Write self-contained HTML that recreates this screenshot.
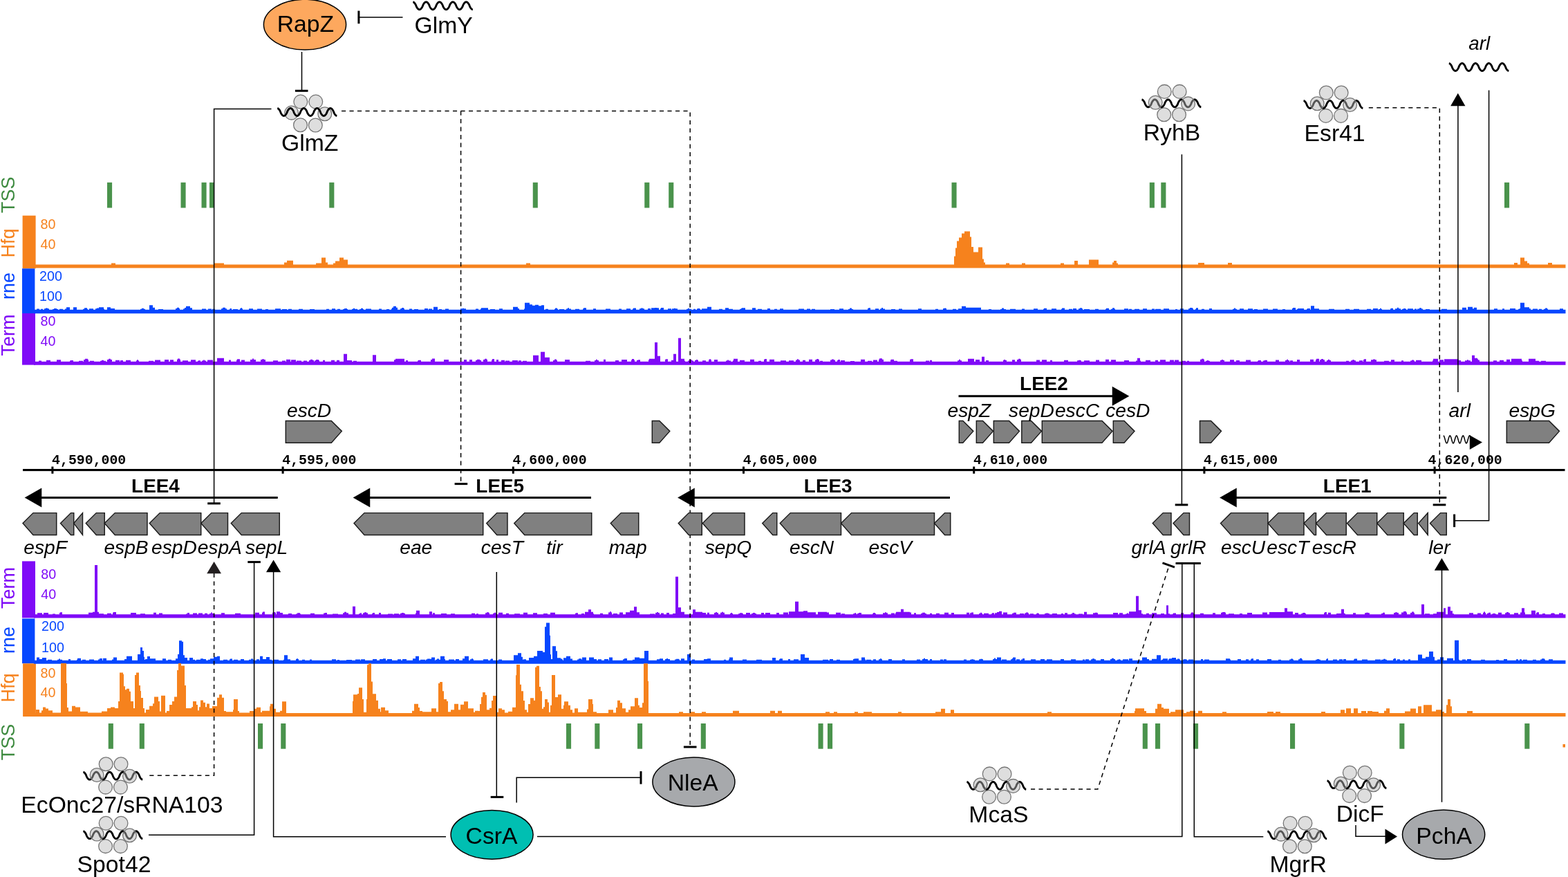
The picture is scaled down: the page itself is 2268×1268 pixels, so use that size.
<!DOCTYPE html>
<html lang="en">
<head>
<meta charset="utf-8">
<title>LEE pathogenicity island sRNA regulation</title>
<style>
html,body{margin:0;padding:0;background:#fff;}
body{width:2268px;height:1268px;overflow:hidden;}
svg{display:block;}
text{white-space:pre;}
</style>
</head>
<body>
<svg width="2268" height="1268" viewBox="0 0 2268 1268">
<rect x="0" y="0" width="2268" height="1268" fill="#fff"/>
<rect x="32.6" y="311.7" width="19" height="76.6" fill="#F6821D"/>
<rect x="32" y="388.3" width="18.4" height="64.7" fill="#0647FF"/>
<rect x="32" y="453" width="19" height="74.6" fill="#7F0AF7"/>
<path d="M49,387.6L49.0,382.4L161.0,382.4L161.0,380.6L167.0,380.6L167.0,382.4L310.0,382.4L310.0,380.4L324.0,380.4L324.0,382.4L411.0,382.4L411.0,379.4L415.0,379.4L415.0,376.8L424.0,376.8L424.0,382.4L457.0,382.4L457.0,380.4L465.0,380.4L465.0,372.4L471.0,372.4L471.0,379.4L474.0,379.4L474.0,382.4L482.0,382.4L482.0,380.4L485.0,380.4L485.0,377.4L491.0,377.4L491.0,372.4L497.0,372.4L497.0,375.4L503.0,375.4L503.0,382.4L761.0,382.4L761.0,380.4L767.0,380.4L767.0,382.4L1380.0,382.4L1380.0,370.4L1382.0,370.4L1382.0,358.4L1384.0,358.4L1384.0,348.4L1387.0,348.4L1387.0,343.4L1391.0,343.4L1391.0,337.4L1395.0,337.4L1395.0,334.4L1403.0,334.4L1403.0,342.4L1405.0,342.4L1405.0,356.9L1408.0,356.9L1408.0,364.4L1415.0,364.4L1415.0,357.4L1421.0,357.4L1421.0,374.4L1423.0,374.4L1423.0,379.4L1425.0,379.4L1425.0,382.4L1455.0,382.4L1455.0,380.4L1460.0,380.4L1460.0,382.4L1478.0,382.4L1478.0,380.4L1483.0,380.4L1483.0,382.4L1534.0,382.4L1534.0,380.4L1539.0,380.4L1539.0,382.4L1554.0,382.4L1554.0,376.9L1559.0,376.9L1559.0,382.4L1575.0,382.4L1575.0,375.4L1589.0,375.4L1589.0,382.4L1609.0,382.4L1609.0,379.4L1611.0,379.4L1611.0,376.9L1615.0,376.9L1615.0,380.4L1617.0,380.4L1617.0,382.4L1733.0,382.4L1733.0,379.9L1742.0,379.9L1742.0,382.4L1776.0,382.4L1776.0,379.9L1782.0,379.9L1782.0,382.4L2190.0,382.4L2190.0,379.9L2195.0,379.9L2195.0,382.4L2199.0,382.4L2199.0,372.4L2205.0,372.4L2205.0,377.4L2209.0,377.4L2209.0,380.4L2212.0,380.4L2212.0,382.4L2239.0,382.4L2239.0,379.9L2245.0,379.9L2245.0,382.4L2264.5,382.4L2264.5,387.6Z" fill="#F6821D"/>
<path d="M49,453.2L49.0,447.8L53.0,447.8L53.0,446.61L57.0,446.61L57.0,447.8L59.0,447.8L59.0,446.77L62.0,446.77L62.0,447.8L64.0,447.8L64.0,446.34L66.0,446.34L66.0,445.39L69.0,445.39L69.0,446.34L71.0,446.34L71.0,447.8L76.0,447.8L76.0,446.91L78.0,446.91L78.0,446.0L82.0,446.0L82.0,446.91L84.0,446.91L84.0,447.8L86.0,447.8L86.0,446.64L91.0,446.64L91.0,447.8L94.0,447.8L94.0,446.42L96.0,446.42L96.0,444.3L101.0,444.3L101.0,447.8L106.0,447.8L106.0,444.3L111.0,444.3L111.0,447.8L120.0,447.8L120.0,446.64L122.0,446.64L122.0,445.16L126.0,445.16L126.0,446.64L127.0,446.64L127.0,447.8L129.0,447.8L129.0,446.13L135.0,446.13L135.0,447.8L138.0,447.8L138.0,446.27L140.0,446.27L140.0,445.55L143.0,445.55L143.0,444.3L150.0,444.3L150.0,446.67L151.0,446.67L151.0,447.8L155.0,447.8L155.0,444.3L160.0,444.3L160.0,446.04L166.0,446.04L166.0,447.8L203.0,447.8L203.0,446.69L205.0,446.69L205.0,445.65L208.0,445.65L208.0,446.69L210.0,446.69L210.0,447.8L216.0,447.8L216.0,441.3L221.0,441.3L221.0,444.8L224.0,444.8L224.0,447.8L229.0,447.8L229.0,446.9L236.0,446.9L236.0,447.8L254.0,447.8L254.0,446.01L256.0,446.01L256.0,444.71L259.0,444.71L259.0,446.01L260.0,446.01L260.0,447.8L265.0,447.8L265.0,446.44L267.0,446.44L267.0,444.96L269.0,444.96L269.0,442.8L275.0,442.8L275.0,445.3L278.0,445.3L278.0,447.8L292.0,447.8L292.0,446.5L298.0,446.5L298.0,447.8L301.0,447.8L301.0,446.39L306.0,446.39L306.0,447.8L307.0,447.8L307.0,446.86L311.0,446.86L311.0,447.8L320.0,447.8L320.0,446.23L322.0,446.23L322.0,444.75L326.0,444.75L326.0,446.23L328.0,446.23L328.0,447.8L332.0,447.8L332.0,446.62L333.0,446.62L333.0,446.08L335.0,446.08L335.0,447.8L337.0,447.8L337.0,446.95L344.0,446.95L344.0,447.8L347.0,447.8L347.0,446.18L348.0,446.18L348.0,445.22L350.0,445.22L350.0,446.18L351.0,446.18L351.0,447.8L360.0,447.8L360.0,446.14L366.0,446.14L366.0,447.8L372.0,447.8L372.0,446.54L379.0,446.54L379.0,447.8L384.0,447.8L384.0,446.88L388.0,446.88L388.0,447.8L398.0,447.8L398.0,446.31L406.0,446.31L406.0,447.8L408.0,447.8L408.0,446.88L415.0,446.88L415.0,447.8L417.0,447.8L417.0,446.69L422.0,446.69L422.0,447.8L432.0,447.8L432.0,446.76L438.0,446.76L438.0,447.8L448.0,447.8L448.0,446.97L455.0,446.97L455.0,447.8L472.0,447.8L472.0,446.8L476.0,446.8L476.0,447.8L480.0,447.8L480.0,446.18L485.0,446.18L485.0,447.8L488.0,447.8L488.0,446.65L492.0,446.65L492.0,447.8L496.0,447.8L496.0,446.93L498.0,446.93L498.0,445.95L502.0,445.95L502.0,446.93L503.0,446.93L503.0,447.8L509.0,447.8L509.0,446.72L511.0,446.72L511.0,445.74L513.0,445.74L513.0,446.72L517.0,446.72L517.0,447.8L520.0,447.8L520.0,446.99L522.0,446.99L522.0,445.74L525.0,445.74L525.0,446.99L526.0,446.99L526.0,447.8L529.0,447.8L529.0,446.42L537.0,446.42L537.0,447.8L548.0,447.8L548.0,446.39L552.0,446.39L552.0,447.8L559.0,447.8L559.0,446.9L563.0,446.9L563.0,447.8L566.0,447.8L566.0,446.46L567.0,446.46L567.0,444.8L569.0,444.8L569.0,442.8L573.0,442.8L573.0,444.8L575.0,444.8L575.0,447.8L579.0,447.8L579.0,446.14L581.0,446.14L581.0,444.96L584.0,444.96L584.0,446.14L585.0,446.14L585.0,447.8L592.0,447.8L592.0,446.59L596.0,446.59L596.0,447.8L599.0,447.8L599.0,446.95L605.0,446.95L605.0,447.8L614.0,447.8L614.0,446.02L619.0,446.02L619.0,447.8L620.0,447.8L620.0,446.51L625.0,446.51L625.0,447.8L627.0,447.8L627.0,443.8L633.0,443.8L633.0,447.8L635.0,447.8L635.0,446.98L639.0,446.98L639.0,447.8L644.0,447.8L644.0,446.52L649.0,446.52L649.0,447.8L666.0,447.8L666.0,446.27L669.0,446.27L669.0,445.68L671.0,445.68L671.0,446.27L674.0,446.27L674.0,447.8L688.0,447.8L688.0,446.43L692.0,446.43L692.0,447.8L695.0,447.8L695.0,446.58L696.0,446.58L696.0,445.3L706.0,445.3L706.0,447.8L709.0,447.8L709.0,446.96L716.0,446.96L716.0,447.8L722.0,447.8L722.0,446.18L727.0,446.18L727.0,447.8L742.0,447.8L742.0,443.8L749.0,443.8L749.0,446.09L751.0,446.09L751.0,447.8L758.0,447.8L758.0,446.55L759.0,446.55L759.0,437.8L766.0,437.8L766.0,440.3L770.0,440.3L770.0,441.8L774.0,441.8L774.0,440.8L779.0,440.8L779.0,442.3L783.0,442.3L783.0,441.3L787.0,441.3L787.0,447.8L789.0,447.8L789.0,446.73L793.0,446.73L793.0,447.8L802.0,447.8L802.0,446.81L803.0,446.81L803.0,445.41L806.0,445.41L806.0,446.81L807.0,446.81L807.0,447.8L809.0,447.8L809.0,446.89L816.0,446.89L816.0,447.8L819.0,447.8L819.0,446.57L821.0,446.57L821.0,445.27L823.0,445.27L823.0,446.57L826.0,446.57L826.0,447.8L832.0,447.8L832.0,446.65L838.0,446.65L838.0,447.8L843.0,447.8L843.0,446.4L844.0,446.4L844.0,445.35L848.0,445.35L848.0,447.8L858.0,447.8L858.0,446.29L862.0,446.29L862.0,447.8L876.0,447.8L876.0,446.45L883.0,446.45L883.0,447.8L895.0,447.8L895.0,446.46L899.0,446.46L899.0,447.8L906.0,447.8L906.0,446.14L912.0,446.14L912.0,447.8L915.0,447.8L915.0,446.39L916.0,446.39L916.0,445.41L920.0,445.41L920.0,447.8L925.0,447.8L925.0,446.13L927.0,446.13L927.0,445.45L930.0,445.45L930.0,446.13L932.0,446.13L932.0,447.8L937.0,447.8L937.0,446.12L941.0,446.12L941.0,447.8L942.0,447.8L942.0,445.3L947.0,445.3L947.0,445.01L950.0,445.01L950.0,445.3L953.0,445.3L953.0,447.8L955.0,447.8L955.0,446.14L956.0,446.14L956.0,444.9L960.0,444.9L960.0,447.8L966.0,447.8L966.0,446.14L971.0,446.14L971.0,447.8L972.0,447.8L972.0,446.36L975.0,446.36L975.0,445.77L977.0,445.77L977.0,446.36L980.0,446.36L980.0,447.8L993.0,447.8L993.0,446.65L995.0,446.65L995.0,445.74L997.0,445.74L997.0,446.65L1000.0,446.65L1000.0,447.8L1003.0,447.8L1003.0,446.7L1006.0,446.7L1006.0,447.8L1008.0,447.8L1008.0,446.49L1009.0,446.49L1009.0,445.91L1012.0,445.91L1012.0,446.49L1013.0,446.49L1013.0,447.8L1015.0,447.8L1015.0,446.14L1023.0,446.14L1023.0,443.8L1029.0,443.8L1029.0,447.8L1040.0,447.8L1040.0,446.75L1045.0,446.75L1045.0,447.8L1049.0,447.8L1049.0,445.3L1054.0,445.3L1054.0,446.64L1060.0,446.64L1060.0,447.8L1070.0,447.8L1070.0,446.83L1072.0,446.83L1072.0,445.77L1073.0,445.77L1073.0,445.3L1078.0,445.3L1078.0,447.8L1088.0,447.8L1088.0,445.3L1093.0,445.3L1093.0,447.8L1096.0,447.8L1096.0,446.85L1102.0,446.85L1102.0,447.8L1110.0,447.8L1110.0,446.09L1114.0,446.09L1114.0,447.8L1120.0,447.8L1120.0,446.84L1124.0,446.84L1124.0,447.8L1128.0,447.8L1128.0,446.35L1133.0,446.35L1133.0,447.8L1155.0,447.8L1155.0,446.53L1163.0,446.53L1163.0,447.8L1167.0,447.8L1167.0,446.43L1172.0,446.43L1172.0,447.8L1174.0,447.8L1174.0,446.66L1179.0,446.66L1179.0,447.8L1201.0,447.8L1201.0,446.92L1207.0,446.92L1207.0,447.8L1214.0,447.8L1214.0,446.22L1220.0,446.22L1220.0,447.8L1227.0,447.8L1227.0,446.97L1229.0,446.97L1229.0,445.49L1232.0,445.49L1232.0,446.97L1234.0,446.97L1234.0,447.8L1255.0,447.8L1255.0,446.03L1256.0,446.03L1256.0,445.37L1259.0,445.37L1259.0,447.8L1266.0,447.8L1266.0,446.31L1271.0,446.31L1271.0,447.8L1273.0,447.8L1273.0,446.4L1275.0,446.4L1275.0,444.96L1277.0,444.96L1277.0,446.4L1280.0,446.4L1280.0,447.8L1289.0,447.8L1289.0,446.9L1295.0,446.9L1295.0,447.8L1300.0,447.8L1300.0,446.44L1305.0,446.44L1305.0,447.8L1328.0,447.8L1328.0,446.32L1333.0,446.32L1333.0,447.8L1353.0,447.8L1353.0,446.66L1357.0,446.66L1357.0,447.8L1364.0,447.8L1364.0,446.12L1366.0,446.12L1366.0,445.55L1368.0,445.55L1368.0,446.12L1369.0,446.12L1369.0,447.8L1378.0,447.8L1378.0,446.7L1383.0,446.7L1383.0,447.8L1386.0,447.8L1386.0,446.24L1391.0,446.24L1391.0,442.8L1397.0,442.8L1397.0,444.8L1419.0,444.8L1419.0,447.8L1430.0,447.8L1430.0,446.88L1434.0,446.88L1434.0,447.8L1447.0,447.8L1447.0,446.95L1449.0,446.95L1449.0,445.46L1452.0,445.46L1452.0,446.95L1455.0,446.95L1455.0,447.8L1461.0,447.8L1461.0,446.78L1469.0,446.78L1469.0,447.8L1478.0,447.8L1478.0,446.48L1482.0,446.48L1482.0,447.8L1495.0,447.8L1495.0,446.17L1501.0,446.17L1501.0,447.8L1509.0,447.8L1509.0,446.78L1510.0,446.78L1510.0,445.71L1514.0,445.71L1514.0,447.8L1521.0,447.8L1521.0,446.31L1528.0,446.31L1528.0,447.8L1535.0,447.8L1535.0,446.75L1536.0,446.75L1536.0,445.59L1540.0,445.59L1540.0,447.8L1546.0,447.8L1546.0,446.65L1551.0,446.65L1551.0,447.8L1552.0,447.8L1552.0,446.09L1557.0,446.09L1557.0,447.8L1560.0,447.8L1560.0,446.26L1562.0,446.26L1562.0,445.17L1565.0,445.17L1565.0,446.26L1566.0,446.26L1566.0,447.8L1568.0,447.8L1568.0,446.98L1576.0,446.98L1576.0,447.8L1584.0,447.8L1584.0,446.71L1589.0,446.71L1589.0,447.8L1599.0,447.8L1599.0,446.68L1600.0,446.68L1600.0,445.76L1604.0,445.76L1604.0,447.8L1607.0,447.8L1607.0,446.75L1609.0,446.75L1609.0,445.36L1612.0,445.36L1612.0,446.75L1613.0,446.75L1613.0,447.8L1626.0,447.8L1626.0,446.28L1632.0,446.28L1632.0,447.8L1633.0,447.8L1633.0,446.64L1637.0,446.64L1637.0,447.8L1641.0,447.8L1641.0,446.74L1648.0,446.74L1648.0,447.8L1653.0,447.8L1653.0,446.37L1659.0,446.37L1659.0,447.8L1666.0,447.8L1666.0,446.56L1670.0,446.56L1670.0,447.8L1671.0,447.8L1671.0,446.69L1679.0,446.69L1679.0,447.8L1683.0,447.8L1683.0,446.28L1691.0,446.28L1691.0,447.8L1700.0,447.8L1700.0,446.92L1703.0,446.92L1703.0,447.8L1707.0,447.8L1707.0,446.29L1712.0,446.29L1712.0,447.8L1719.0,447.8L1719.0,446.16L1721.0,446.16L1721.0,444.92L1725.0,444.92L1725.0,446.16L1726.0,446.16L1726.0,447.8L1729.0,447.8L1729.0,446.81L1730.0,446.81L1730.0,445.31L1733.0,445.31L1733.0,447.8L1738.0,447.8L1738.0,446.83L1742.0,446.83L1742.0,447.8L1749.0,447.8L1749.0,446.09L1753.0,446.09L1753.0,447.8L1783.0,447.8L1783.0,446.75L1785.0,446.75L1785.0,445.43L1787.0,445.43L1787.0,446.75L1789.0,446.75L1789.0,447.8L1793.0,447.8L1793.0,446.16L1799.0,446.16L1799.0,447.8L1805.0,447.8L1805.0,446.36L1812.0,446.36L1812.0,447.8L1814.0,447.8L1814.0,446.98L1819.0,446.98L1819.0,447.8L1827.0,447.8L1827.0,446.56L1834.0,446.56L1834.0,447.8L1841.0,447.8L1841.0,446.45L1848.0,446.45L1848.0,447.8L1855.0,447.8L1855.0,446.92L1859.0,446.92L1859.0,447.8L1869.0,447.8L1869.0,446.09L1870.0,446.09L1870.0,445.08L1874.0,445.08L1874.0,447.8L1876.0,447.8L1876.0,446.97L1877.0,446.97L1877.0,446.0L1881.0,446.0L1881.0,446.03L1886.0,446.03L1886.0,447.8L1890.0,447.8L1890.0,446.63L1891.0,446.63L1891.0,446.11L1895.0,446.11L1895.0,447.8L1896.0,447.8L1896.0,442.3L1901.0,442.3L1901.0,446.24L1908.0,446.24L1908.0,447.8L1922.0,447.8L1922.0,446.73L1930.0,446.73L1930.0,447.8L1946.0,447.8L1946.0,446.86L1952.0,446.86L1952.0,447.8L1958.0,447.8L1958.0,446.75L1966.0,446.75L1966.0,447.8L1977.0,447.8L1977.0,446.72L1983.0,446.72L1983.0,447.8L1986.0,447.8L1986.0,446.11L1993.0,446.11L1993.0,447.8L1994.0,447.8L1994.0,446.93L1996.0,446.93L1996.0,445.86L1998.0,445.86L1998.0,446.93L1999.0,446.93L1999.0,447.8L2011.0,447.8L2011.0,446.26L2012.0,446.26L2012.0,445.74L2015.0,445.74L2015.0,447.8L2018.0,447.8L2018.0,446.13L2021.0,446.13L2021.0,444.71L2023.0,444.71L2023.0,446.13L2026.0,446.13L2026.0,447.8L2028.0,447.8L2028.0,446.74L2030.0,446.74L2030.0,446.1L2033.0,446.1L2033.0,446.74L2034.0,446.74L2034.0,447.8L2036.0,447.8L2036.0,446.24L2044.0,446.24L2044.0,447.8L2046.0,447.8L2046.0,446.38L2049.0,446.38L2049.0,447.8L2050.0,447.8L2050.0,446.62L2053.0,446.62L2053.0,445.21L2056.0,445.21L2056.0,446.62L2058.0,446.62L2058.0,447.8L2062.0,447.8L2062.0,446.95L2068.0,446.95L2068.0,447.8L2085.0,447.8L2085.0,446.65L2093.0,446.65L2093.0,447.8L2115.0,447.8L2115.0,444.8L2121.0,444.8L2121.0,447.8L2123.0,447.8L2123.0,443.8L2130.0,443.8L2130.0,446.14L2132.0,446.14L2132.0,444.74L2136.0,444.74L2136.0,447.8L2161.0,447.8L2161.0,446.31L2166.0,446.31L2166.0,447.8L2173.0,447.8L2173.0,446.33L2176.0,446.33L2176.0,447.8L2184.0,447.8L2184.0,446.04L2192.0,446.04L2192.0,447.8L2196.0,447.8L2196.0,446.82L2198.0,446.82L2198.0,445.88L2199.0,445.88L2199.0,437.8L2205.0,437.8L2205.0,444.3L2212.0,444.3L2212.0,446.2L2214.0,446.2L2214.0,447.8L2217.0,447.8L2217.0,446.38L2224.0,446.38L2224.0,447.8L2226.0,447.8L2226.0,446.69L2230.0,446.69L2230.0,447.8L2233.0,447.8L2233.0,446.65L2235.0,446.65L2235.0,445.61L2238.0,445.61L2238.0,446.65L2239.0,446.65L2239.0,447.8L2256.0,447.8L2256.0,446.14L2261.0,446.14L2261.0,447.8L2264.5,447.8L2264.5,453.2Z" fill="#0647FF"/>
<path d="M49,527.8L49.0,522.7L56.0,522.7L56.0,521.53L60.0,521.53L60.0,522.7L67.0,522.7L67.0,520.68L73.0,520.68L73.0,522.7L82.0,522.7L82.0,520.18L88.0,520.18L88.0,522.7L101.0,522.7L101.0,521.56L102.0,521.56L102.0,520.89L106.0,520.89L106.0,522.7L114.0,522.7L114.0,521.77L120.0,521.77L120.0,522.7L121.0,522.7L121.0,520.05L123.0,520.05L123.0,518.82L127.0,518.82L127.0,520.05L128.0,520.05L128.0,522.7L130.0,522.7L130.0,521.63L136.0,521.63L136.0,522.7L145.0,522.7L145.0,521.78L147.0,521.78L147.0,520.67L150.0,520.67L150.0,521.78L153.0,521.78L153.0,522.7L155.0,522.7L155.0,520.04L157.0,520.04L157.0,518.87L160.0,518.87L160.0,520.04L162.0,520.04L162.0,522.7L167.0,522.7L167.0,520.81L173.0,520.81L173.0,522.7L174.0,522.7L174.0,520.89L178.0,520.89L178.0,522.7L182.0,522.7L182.0,520.71L189.0,520.71L189.0,522.7L197.0,522.7L197.0,521.59L198.0,521.59L198.0,520.23L200.0,520.23L200.0,521.59L201.0,521.59L201.0,522.7L215.0,522.7L215.0,521.66L222.0,521.66L222.0,522.7L224.0,522.7L224.0,520.46L232.0,520.46L232.0,522.7L238.0,522.7L238.0,520.03L244.0,520.03L244.0,522.7L246.0,522.7L246.0,520.29L251.0,520.29L251.0,522.7L256.0,522.7L256.0,519.77L257.0,519.77L257.0,518.59L260.0,518.59L260.0,519.77L261.0,519.77L261.0,522.7L264.0,522.7L264.0,521.18L272.0,521.18L272.0,522.7L276.0,522.7L276.0,520.25L283.0,520.25L283.0,522.7L286.0,522.7L286.0,521.83L287.0,521.83L287.0,521.27L290.0,521.27L290.0,522.7L292.0,522.7L292.0,521.56L294.0,521.56L294.0,520.38L296.0,520.38L296.0,521.56L298.0,521.56L298.0,522.7L300.0,522.7L300.0,520.58L308.0,520.58L308.0,522.7L314.0,522.7L314.0,517.7L324.0,517.7L324.0,522.7L331.0,522.7L331.0,520.6L334.0,520.6L334.0,522.7L342.0,522.7L342.0,520.47L343.0,520.47L343.0,519.19L347.0,519.19L347.0,522.7L349.0,522.7L349.0,520.59L354.0,520.59L354.0,522.7L362.0,522.7L362.0,519.91L365.0,519.91L365.0,518.55L367.0,518.55L367.0,519.91L370.0,519.91L370.0,522.7L377.0,522.7L377.0,519.99L379.0,519.99L379.0,519.19L382.0,519.19L382.0,519.99L384.0,519.99L384.0,522.7L395.0,522.7L395.0,521.37L402.0,521.37L402.0,522.7L408.0,522.7L408.0,521.5L413.0,521.5L413.0,522.7L414.0,522.7L414.0,519.83L420.0,519.83L420.0,522.7L421.0,522.7L421.0,520.32L428.0,520.32L428.0,522.7L429.0,522.7L429.0,521.47L436.0,521.47L436.0,522.7L439.0,522.7L439.0,521.52L444.0,521.52L444.0,522.7L447.0,522.7L447.0,520.77L449.0,520.77L449.0,519.74L452.0,519.74L452.0,520.77L454.0,520.77L454.0,522.7L455.0,522.7L455.0,521.3L457.0,521.3L457.0,520.08L461.0,520.08L461.0,521.3L462.0,521.3L462.0,522.7L467.0,522.7L467.0,520.74L470.0,520.74L470.0,522.7L479.0,522.7L479.0,520.65L484.0,520.65L484.0,522.7L487.0,522.7L487.0,520.83L491.0,520.83L491.0,522.7L497.0,522.7L497.0,511.7L502.0,511.7L502.0,520.93L509.0,520.93L509.0,522.7L511.0,522.7L511.0,521.75L516.0,521.75L516.0,522.7L539.0,522.7L539.0,513.2L544.0,513.2L544.0,522.7L570.0,522.7L570.0,520.24L572.0,520.24L572.0,518.7L585.0,518.7L585.0,522.7L587.0,522.7L587.0,521.08L590.0,521.08L590.0,522.7L604.0,522.7L604.0,521.55L605.0,521.55L605.0,520.73L609.0,520.73L609.0,522.7L623.0,522.7L623.0,520.06L625.0,520.06L625.0,518.59L629.0,518.59L629.0,522.7L642.0,522.7L642.0,519.93L649.0,519.93L649.0,522.7L671.0,522.7L671.0,520.03L675.0,520.03L675.0,522.7L679.0,522.7L679.0,519.92L683.0,519.92L683.0,522.7L688.0,522.7L688.0,520.84L690.0,520.84L690.0,519.8L694.0,519.8L694.0,520.84L696.0,520.84L696.0,522.7L699.0,522.7L699.0,519.91L701.0,519.91L701.0,518.66L704.0,518.66L704.0,519.91L705.0,519.91L705.0,522.7L711.0,522.7L711.0,520.44L712.0,520.44L712.0,519.08L715.0,519.08L715.0,522.7L718.0,522.7L718.0,520.04L721.0,520.04L721.0,522.7L725.0,522.7L725.0,520.7L730.0,520.7L730.0,522.7L731.0,522.7L731.0,521.39L737.0,521.39L737.0,522.7L741.0,522.7L741.0,520.91L749.0,520.91L749.0,522.7L750.0,522.7L750.0,521.25L754.0,521.25L754.0,522.7L756.0,522.7L756.0,521.71L762.0,521.71L762.0,522.7L771.0,522.7L771.0,513.7L779.0,513.7L779.0,522.7L782.0,522.7L782.0,508.7L788.0,508.7L788.0,516.7L795.0,516.7L795.0,522.7L800.0,522.7L800.0,520.89L802.0,520.89L802.0,519.5L805.0,519.5L805.0,520.89L806.0,520.89L806.0,522.7L817.0,522.7L817.0,520.11L824.0,520.11L824.0,522.7L847.0,522.7L847.0,521.86L854.0,521.86L854.0,522.7L860.0,522.7L860.0,520.95L862.0,520.95L862.0,519.83L864.0,519.83L864.0,520.95L866.0,520.95L866.0,522.7L873.0,522.7L873.0,519.87L876.0,519.87L876.0,522.7L890.0,522.7L890.0,521.05L895.0,521.05L895.0,522.7L899.0,522.7L899.0,519.88L907.0,519.88L907.0,522.7L913.0,522.7L913.0,520.39L914.0,520.39L914.0,518.9L917.0,518.9L917.0,520.39L918.0,520.39L918.0,522.7L921.0,522.7L921.0,520.82L923.0,520.82L923.0,520.16L926.0,520.16L926.0,522.7L938.0,522.7L938.0,520.14L939.0,520.14L939.0,518.83L940.0,518.83L940.0,518.7L947.0,518.7L947.0,494.9L951.0,494.9L951.0,514.7L955.0,514.7L955.0,522.7L962.0,522.7L962.0,519.73L963.0,519.73L963.0,519.23L966.0,519.23L966.0,522.7L971.0,522.7L971.0,520.68L974.0,520.68L974.0,511.7L978.0,511.7L978.0,522.7L981.0,522.7L981.0,488.7L985.0,488.7L985.0,518.7L990.0,518.7L990.0,521.7L991.0,521.7L991.0,522.7L995.0,522.7L995.0,521.58L997.0,521.58L997.0,520.33L1001.0,520.33L1001.0,521.58L1003.0,521.58L1003.0,522.7L1005.0,522.7L1005.0,520.71L1007.0,520.71L1007.0,520.12L1009.0,520.12L1009.0,520.71L1010.0,520.71L1010.0,522.7L1016.0,522.7L1016.0,521.13L1021.0,521.13L1021.0,522.7L1025.0,522.7L1025.0,520.22L1026.0,520.22L1026.0,519.27L1028.0,519.27L1028.0,520.22L1029.0,520.22L1029.0,522.7L1033.0,522.7L1033.0,520.01L1038.0,520.01L1038.0,522.7L1050.0,522.7L1050.0,521.39L1052.0,521.39L1052.0,520.6L1054.0,520.6L1054.0,521.39L1057.0,521.39L1057.0,522.7L1060.0,522.7L1060.0,521.17L1061.0,521.17L1061.0,518.7L1067.0,518.7L1067.0,522.7L1070.0,522.7L1070.0,520.74L1077.0,520.74L1077.0,522.7L1085.0,522.7L1085.0,519.87L1091.0,519.87L1091.0,522.7L1097.0,522.7L1097.0,521.68L1101.0,521.68L1101.0,522.7L1105.0,522.7L1105.0,519.8L1106.0,519.8L1106.0,519.06L1109.0,519.06L1109.0,522.7L1113.0,522.7L1113.0,519.78L1120.0,519.78L1120.0,522.7L1129.0,522.7L1129.0,521.26L1137.0,521.26L1137.0,522.7L1141.0,522.7L1141.0,521.23L1148.0,521.23L1148.0,522.7L1151.0,522.7L1151.0,520.51L1153.0,520.51L1153.0,519.18L1155.0,519.18L1155.0,520.51L1157.0,520.51L1157.0,522.7L1161.0,522.7L1161.0,520.87L1165.0,520.87L1165.0,522.7L1170.0,522.7L1170.0,519.84L1175.0,519.84L1175.0,522.7L1179.0,522.7L1179.0,520.21L1181.0,520.21L1181.0,518.95L1184.0,518.95L1184.0,520.21L1185.0,520.21L1185.0,522.7L1186.0,522.7L1186.0,521.79L1190.0,521.79L1190.0,522.7L1201.0,522.7L1201.0,520.54L1203.0,520.54L1203.0,519.57L1206.0,519.57L1206.0,520.54L1208.0,520.54L1208.0,522.7L1211.0,522.7L1211.0,521.08L1212.0,521.08L1212.0,520.01L1215.0,520.01L1215.0,522.7L1216.0,522.7L1216.0,521.02L1222.0,521.02L1222.0,522.7L1230.0,522.7L1230.0,521.89L1236.0,521.89L1236.0,522.7L1245.0,522.7L1245.0,519.72L1251.0,519.72L1251.0,522.7L1255.0,522.7L1255.0,521.67L1261.0,521.67L1261.0,522.7L1263.0,522.7L1263.0,520.55L1269.0,520.55L1269.0,522.7L1271.0,522.7L1271.0,519.83L1272.0,519.83L1272.0,518.2L1276.0,518.2L1276.0,519.83L1278.0,519.83L1278.0,522.7L1288.0,522.7L1288.0,520.2L1289.0,520.2L1289.0,519.66L1293.0,519.66L1293.0,521.73L1298.0,521.73L1298.0,522.7L1316.0,522.7L1316.0,519.99L1317.0,519.99L1317.0,519.36L1321.0,519.36L1321.0,522.7L1339.0,522.7L1339.0,521.38L1344.0,521.38L1344.0,522.7L1345.0,522.7L1345.0,520.86L1348.0,520.86L1348.0,522.7L1385.0,522.7L1385.0,521.16L1387.0,521.16L1387.0,519.74L1389.0,519.74L1389.0,521.16L1391.0,521.16L1391.0,522.7L1400.0,522.7L1400.0,518.7L1409.0,518.7L1409.0,522.7L1411.0,522.7L1411.0,519.99L1417.0,519.99L1417.0,522.7L1420.0,522.7L1420.0,515.7L1424.0,515.7L1424.0,522.7L1426.0,522.7L1426.0,520.92L1430.0,520.92L1430.0,522.7L1451.0,522.7L1451.0,520.84L1452.0,520.84L1452.0,520.07L1454.0,520.07L1454.0,520.84L1456.0,520.84L1456.0,522.7L1464.0,522.7L1464.0,520.24L1468.0,520.24L1468.0,522.7L1471.0,522.7L1471.0,520.06L1473.0,520.06L1473.0,518.81L1476.0,518.81L1476.0,520.06L1477.0,520.06L1477.0,522.7L1499.0,522.7L1499.0,520.5L1504.0,520.5L1504.0,522.7L1507.0,522.7L1507.0,520.25L1514.0,520.25L1514.0,522.7L1519.0,522.7L1519.0,520.76L1522.0,520.76L1522.0,522.7L1539.0,522.7L1539.0,520.7L1545.0,520.7L1545.0,522.7L1558.0,522.7L1558.0,521.3L1560.0,521.3L1560.0,520.79L1563.0,520.79L1563.0,521.3L1564.0,521.3L1564.0,522.7L1568.0,522.7L1568.0,521.33L1576.0,521.33L1576.0,522.7L1585.0,522.7L1585.0,520.58L1590.0,520.58L1590.0,522.7L1599.0,522.7L1599.0,519.71L1604.0,519.71L1604.0,522.7L1607.0,522.7L1607.0,520.18L1614.0,520.18L1614.0,522.7L1626.0,522.7L1626.0,521.04L1633.0,521.04L1633.0,522.7L1643.0,522.7L1643.0,521.43L1645.0,521.43L1645.0,517.7L1649.0,517.7L1649.0,521.43L1650.0,521.43L1650.0,522.7L1657.0,522.7L1657.0,520.76L1664.0,520.76L1664.0,522.7L1671.0,522.7L1671.0,520.82L1675.0,520.82L1675.0,522.7L1678.0,522.7L1678.0,520.29L1686.0,520.29L1686.0,522.7L1692.0,522.7L1692.0,520.5L1698.0,520.5L1698.0,522.7L1699.0,522.7L1699.0,520.38L1705.0,520.38L1705.0,522.7L1709.0,522.7L1709.0,521.67L1715.0,521.67L1715.0,522.7L1717.0,522.7L1717.0,521.73L1720.0,521.73L1720.0,522.7L1736.0,522.7L1736.0,519.84L1738.0,519.84L1738.0,518.86L1741.0,518.86L1741.0,519.84L1742.0,519.84L1742.0,522.7L1744.0,522.7L1744.0,521.66L1746.0,521.66L1746.0,520.91L1748.0,520.91L1748.0,521.66L1750.0,521.66L1750.0,522.7L1765.0,522.7L1765.0,520.69L1767.0,520.69L1767.0,520.09L1769.0,520.09L1769.0,520.69L1771.0,520.69L1771.0,522.7L1779.0,522.7L1779.0,520.27L1785.0,520.27L1785.0,522.7L1788.0,522.7L1788.0,521.09L1793.0,521.09L1793.0,522.7L1802.0,522.7L1802.0,520.45L1809.0,520.45L1809.0,522.7L1819.0,522.7L1819.0,521.72L1820.0,521.72L1820.0,521.01L1824.0,521.01L1824.0,522.7L1827.0,522.7L1827.0,521.41L1829.0,521.41L1829.0,520.72L1833.0,520.72L1833.0,522.7L1845.0,522.7L1845.0,520.38L1850.0,520.38L1850.0,522.7L1859.0,522.7L1859.0,520.97L1861.0,520.97L1861.0,519.72L1863.0,519.72L1863.0,520.97L1865.0,520.97L1865.0,522.7L1866.0,522.7L1866.0,521.13L1870.0,521.13L1870.0,522.7L1876.0,522.7L1876.0,519.97L1880.0,519.97L1880.0,522.7L1895.0,522.7L1895.0,519.81L1900.0,519.81L1900.0,522.7L1903.0,522.7L1903.0,520.14L1904.0,520.14L1904.0,518.83L1908.0,518.83L1908.0,522.7L1909.0,522.7L1909.0,520.36L1911.0,520.36L1911.0,518.91L1914.0,518.91L1914.0,520.36L1916.0,520.36L1916.0,522.7L1919.0,522.7L1919.0,521.0L1921.0,521.0L1921.0,519.83L1923.0,519.83L1923.0,521.0L1925.0,521.0L1925.0,522.7L1947.0,522.7L1947.0,521.85L1951.0,521.85L1951.0,522.7L1954.0,522.7L1954.0,521.25L1956.0,521.25L1956.0,520.34L1959.0,520.34L1959.0,521.25L1961.0,521.25L1961.0,522.7L1966.0,522.7L1966.0,521.27L1971.0,521.27L1971.0,522.7L1972.0,522.7L1972.0,520.1L1973.0,520.1L1973.0,519.21L1976.0,519.21L1976.0,522.7L1983.0,522.7L1983.0,520.17L1986.0,520.17L1986.0,519.49L1989.0,519.49L1989.0,520.17L1991.0,520.17L1991.0,522.7L2002.0,522.7L2002.0,521.65L2009.0,521.65L2009.0,522.7L2012.0,522.7L2012.0,520.18L2017.0,520.18L2017.0,522.7L2027.0,522.7L2027.0,521.26L2030.0,521.26L2030.0,522.7L2040.0,522.7L2040.0,521.52L2042.0,521.52L2042.0,520.41L2045.0,520.41L2045.0,521.52L2046.0,521.52L2046.0,522.7L2048.0,522.7L2048.0,520.64L2056.0,520.64L2056.0,522.7L2072.0,522.7L2072.0,521.29L2073.0,521.29L2073.0,518.7L2080.0,518.7L2080.0,522.7L2082.0,522.7L2082.0,520.31L2088.0,520.31L2088.0,522.7L2089.0,522.7L2089.0,519.2L2109.0,519.2L2109.0,519.56L2110.0,519.56L2110.0,520.96L2113.0,520.96L2113.0,522.7L2119.0,522.7L2119.0,521.31L2122.0,521.31L2122.0,520.17L2124.0,520.17L2124.0,521.31L2127.0,521.31L2127.0,522.7L2129.0,522.7L2129.0,513.7L2133.0,513.7L2133.0,517.7L2137.0,517.7L2137.0,519.32L2138.0,519.32L2138.0,520.6L2140.0,520.6L2140.0,522.7L2160.0,522.7L2160.0,521.21L2165.0,521.21L2165.0,522.7L2169.0,522.7L2169.0,520.84L2175.0,520.84L2175.0,522.7L2179.0,522.7L2179.0,519.87L2184.0,519.87L2184.0,522.7L2186.0,522.7L2186.0,518.7L2201.0,518.7L2201.0,521.31L2202.0,521.31L2202.0,522.7L2211.0,522.7L2211.0,518.7L2221.0,518.7L2221.0,521.78L2226.0,521.78L2226.0,522.7L2229.0,522.7L2229.0,521.85L2236.0,521.85L2236.0,522.7L2264.5,522.7L2264.5,527.8Z" fill="#7F0AF7"/>
<rect x="32" y="811.4" width="19" height="82" fill="#7F0AF7"/>
<rect x="32" y="894.4" width="18.4" height="64.8" fill="#0647FF"/>
<rect x="33.1" y="959.3" width="18.8" height="76.7" fill="#F6821D"/>
<path d="M49,893.5L49.0,888.3L54.0,888.3L54.0,886.23L61.0,886.23L61.0,888.3L63.0,888.3L63.0,885.88L70.0,885.88L70.0,888.3L76.0,888.3L76.0,887.49L80.0,887.49L80.0,888.3L86.0,888.3L86.0,885.91L87.0,885.91L87.0,885.37L90.0,885.37L90.0,888.3L128.0,888.3L128.0,885.75L134.0,885.75L134.0,884.8L137.0,884.8L137.0,817.0L141.0,817.0L141.0,884.8L143.0,884.8L143.0,887.25L150.0,887.25L150.0,888.3L155.0,888.3L155.0,886.81L161.0,886.81L161.0,888.3L163.0,888.3L163.0,885.77L164.0,885.77L164.0,885.06L168.0,885.06L168.0,888.3L189.0,888.3L189.0,885.99L197.0,885.99L197.0,888.3L203.0,888.3L203.0,887.26L210.0,887.26L210.0,888.3L222.0,888.3L222.0,885.65L226.0,885.65L226.0,888.3L230.0,888.3L230.0,886.6L235.0,886.6L235.0,888.3L269.0,888.3L269.0,887.45L271.0,887.45L271.0,885.95L274.0,885.95L274.0,888.3L279.0,888.3L279.0,886.4L285.0,886.4L285.0,888.3L287.0,888.3L287.0,886.39L293.0,886.39L293.0,888.3L296.0,888.3L296.0,886.8L300.0,886.8L300.0,888.3L303.0,888.3L303.0,886.89L305.0,886.89L305.0,885.57L307.0,885.57L307.0,886.89L309.0,886.89L309.0,888.3L320.0,888.3L320.0,886.13L325.0,886.13L325.0,888.3L340.0,888.3L340.0,886.69L348.0,886.69L348.0,888.3L369.0,888.3L369.0,885.73L375.0,885.73L375.0,888.3L379.0,888.3L379.0,885.75L380.0,885.75L380.0,884.44L383.0,884.44L383.0,888.3L394.0,888.3L394.0,885.83L395.0,885.83L395.0,885.04L398.0,885.04L398.0,885.83L399.0,885.83L399.0,888.3L400.0,888.3L400.0,884.3L405.0,884.3L405.0,885.88L409.0,885.88L409.0,888.3L417.0,888.3L417.0,887.0L422.0,887.0L422.0,888.3L428.0,888.3L428.0,887.44L430.0,887.44L430.0,886.15L434.0,886.15L434.0,887.44L435.0,887.44L435.0,888.3L449.0,888.3L449.0,886.65L455.0,886.65L455.0,888.3L468.0,888.3L468.0,886.43L470.0,886.43L470.0,885.92L473.0,885.92L473.0,888.3L481.0,888.3L481.0,887.45L489.0,887.45L489.0,888.3L496.0,888.3L496.0,886.33L498.0,886.33L498.0,884.87L501.0,884.87L501.0,886.33L504.0,886.33L504.0,888.3L510.0,888.3L510.0,876.8L514.0,876.8L514.0,888.3L519.0,888.3L519.0,887.31L521.0,887.31L521.0,886.36L523.0,886.36L523.0,888.3L525.0,888.3L525.0,886.19L527.0,886.19L527.0,885.37L530.0,885.37L530.0,886.19L532.0,886.19L532.0,888.3L538.0,888.3L538.0,887.17L539.0,887.17L539.0,885.96L542.0,885.96L542.0,888.3L548.0,888.3L548.0,886.08L551.0,886.08L551.0,888.3L561.0,888.3L561.0,887.48L568.0,887.48L568.0,888.3L570.0,888.3L570.0,887.15L577.0,887.15L577.0,888.3L579.0,888.3L579.0,886.87L581.0,886.87L581.0,886.06L584.0,886.06L584.0,886.87L586.0,886.87L586.0,888.3L601.0,888.3L601.0,886.49L602.0,886.49L602.0,882.8L607.0,882.8L607.0,888.3L621.0,888.3L621.0,884.3L625.0,884.3L625.0,888.3L626.0,888.3L626.0,886.3L629.0,886.3L629.0,888.3L638.0,888.3L638.0,886.88L646.0,886.88L646.0,888.3L652.0,888.3L652.0,887.37L658.0,887.37L658.0,888.3L682.0,888.3L682.0,886.86L687.0,886.86L687.0,888.3L689.0,888.3L689.0,887.35L692.0,887.35L692.0,888.3L702.0,888.3L702.0,886.26L704.0,886.26L704.0,885.31L707.0,885.31L707.0,886.26L708.0,886.26L708.0,888.3L713.0,888.3L713.0,886.7L715.0,886.7L715.0,885.76L717.0,885.76L717.0,886.7L718.0,886.7L718.0,888.3L721.0,888.3L721.0,885.87L727.0,885.87L727.0,888.3L732.0,888.3L732.0,886.73L736.0,886.73L736.0,888.3L744.0,888.3L744.0,887.33L752.0,887.33L752.0,888.3L757.0,888.3L757.0,885.72L763.0,885.72L763.0,888.3L771.0,888.3L771.0,886.16L777.0,886.16L777.0,888.3L786.0,888.3L786.0,887.01L792.0,887.01L792.0,888.3L796.0,888.3L796.0,885.85L803.0,885.85L803.0,888.3L832.0,888.3L832.0,886.87L833.0,886.87L833.0,886.23L836.0,886.23L836.0,888.3L841.0,888.3L841.0,886.89L845.0,886.89L845.0,888.3L846.0,888.3L846.0,884.8L851.0,884.8L851.0,881.3L855.0,881.3L855.0,884.8L858.0,884.8L858.0,887.28L859.0,887.28L859.0,888.3L868.0,888.3L868.0,886.83L872.0,886.83L872.0,888.3L880.0,888.3L880.0,885.6L882.0,885.6L882.0,884.25L884.0,884.25L884.0,885.6L885.0,885.6L885.0,888.3L887.0,888.3L887.0,887.1L893.0,887.1L893.0,888.3L896.0,888.3L896.0,885.62L901.0,885.62L901.0,888.3L905.0,888.3L905.0,885.3L911.0,885.3L911.0,882.8L917.0,882.8L917.0,877.3L921.0,877.3L921.0,885.3L925.0,885.3L925.0,888.3L940.0,888.3L940.0,887.46L947.0,887.46L947.0,888.3L948.0,888.3L948.0,886.1L950.0,886.1L950.0,885.05L952.0,885.05L952.0,886.1L954.0,886.1L954.0,888.3L956.0,888.3L956.0,886.59L960.0,886.59L960.0,888.3L964.0,888.3L964.0,885.92L968.0,885.92L968.0,888.3L973.0,888.3L973.0,887.12L977.0,887.12L977.0,833.8L981.0,833.8L981.0,878.3L985.0,878.3L985.0,884.8L990.0,884.8L990.0,888.3L1002.0,888.3L1002.0,881.3L1006.0,881.3L1006.0,884.8L1016.0,884.8L1016.0,886.01L1021.0,886.01L1021.0,888.3L1023.0,888.3L1023.0,885.87L1026.0,885.87L1026.0,888.3L1033.0,888.3L1033.0,885.9L1035.0,885.9L1035.0,885.05L1037.0,885.05L1037.0,885.9L1039.0,885.9L1039.0,888.3L1042.0,888.3L1042.0,885.72L1044.0,885.72L1044.0,884.71L1046.0,884.71L1046.0,885.72L1048.0,885.72L1048.0,888.3L1056.0,888.3L1056.0,886.96L1057.0,886.96L1057.0,885.97L1059.0,885.97L1059.0,886.96L1060.0,886.96L1060.0,888.3L1068.0,888.3L1068.0,887.18L1070.0,887.18L1070.0,886.15L1074.0,886.15L1074.0,887.18L1075.0,887.18L1075.0,888.3L1079.0,888.3L1079.0,886.04L1085.0,886.04L1085.0,888.3L1087.0,888.3L1087.0,887.07L1089.0,887.07L1089.0,886.04L1092.0,886.04L1092.0,887.07L1094.0,887.07L1094.0,888.3L1101.0,888.3L1101.0,886.08L1105.0,886.08L1105.0,888.3L1107.0,888.3L1107.0,885.89L1114.0,885.89L1114.0,888.3L1123.0,888.3L1123.0,885.94L1127.0,885.94L1127.0,888.3L1133.0,888.3L1133.0,885.56L1140.0,885.56L1140.0,888.3L1141.0,888.3L1141.0,884.3L1150.0,884.3L1150.0,869.8L1155.0,869.8L1155.0,884.3L1162.0,884.3L1162.0,883.3L1168.0,883.3L1168.0,885.3L1176.0,885.3L1176.0,885.17L1179.0,885.17L1179.0,885.3L1180.0,885.3L1180.0,888.3L1183.0,888.3L1183.0,884.8L1196.0,884.8L1196.0,885.5L1199.0,885.5L1199.0,888.3L1209.0,888.3L1209.0,885.73L1216.0,885.73L1216.0,888.3L1217.0,888.3L1217.0,887.14L1222.0,887.14L1222.0,888.3L1234.0,888.3L1234.0,887.24L1236.0,887.24L1236.0,886.16L1238.0,886.16L1238.0,887.24L1239.0,887.24L1239.0,888.3L1240.0,888.3L1240.0,887.08L1242.0,887.08L1242.0,886.06L1246.0,886.06L1246.0,888.3L1262.0,888.3L1262.0,887.25L1263.0,887.25L1263.0,886.11L1266.0,886.11L1266.0,887.25L1267.0,887.25L1267.0,888.3L1277.0,888.3L1277.0,886.2L1280.0,886.2L1280.0,885.32L1282.0,885.32L1282.0,886.2L1284.0,886.2L1284.0,888.3L1289.0,888.3L1289.0,886.42L1294.0,886.42L1294.0,888.3L1295.0,888.3L1295.0,886.33L1296.0,886.33L1296.0,884.8L1303.0,884.8L1303.0,880.8L1307.0,880.8L1307.0,884.8L1316.0,884.8L1316.0,885.51L1318.0,885.51L1318.0,888.3L1322.0,888.3L1322.0,886.17L1325.0,886.17L1325.0,888.3L1332.0,888.3L1332.0,887.11L1334.0,887.11L1334.0,885.79L1338.0,885.79L1338.0,887.11L1340.0,887.11L1340.0,888.3L1345.0,888.3L1345.0,886.76L1348.0,886.76L1348.0,888.3L1354.0,888.3L1354.0,886.72L1359.0,886.72L1359.0,888.3L1366.0,888.3L1366.0,885.77L1372.0,885.77L1372.0,888.3L1376.0,888.3L1376.0,885.94L1380.0,885.94L1380.0,888.3L1398.0,888.3L1398.0,885.8L1402.0,885.8L1402.0,888.3L1403.0,888.3L1403.0,886.23L1405.0,886.23L1405.0,885.47L1408.0,885.47L1408.0,888.3L1416.0,888.3L1416.0,887.06L1418.0,887.06L1418.0,885.85L1420.0,885.85L1420.0,887.06L1421.0,887.06L1421.0,888.3L1423.0,888.3L1423.0,886.83L1430.0,886.83L1430.0,888.3L1434.0,888.3L1434.0,887.22L1435.0,887.22L1435.0,886.3L1438.0,886.3L1438.0,888.3L1439.0,888.3L1439.0,886.19L1442.0,886.19L1442.0,885.1L1445.0,885.1L1445.0,883.8L1449.0,883.8L1449.0,888.3L1451.0,888.3L1451.0,885.58L1457.0,885.58L1457.0,888.3L1464.0,888.3L1464.0,886.77L1466.0,886.77L1466.0,885.63L1470.0,885.63L1470.0,888.3L1475.0,888.3L1475.0,887.05L1481.0,887.05L1481.0,888.3L1482.0,888.3L1482.0,886.59L1484.0,886.59L1484.0,885.51L1487.0,885.51L1487.0,886.59L1488.0,886.59L1488.0,888.3L1490.0,888.3L1490.0,887.17L1495.0,887.17L1495.0,888.3L1499.0,888.3L1499.0,887.07L1500.0,887.07L1500.0,886.42L1502.0,886.42L1502.0,887.07L1503.0,887.07L1503.0,888.3L1511.0,888.3L1511.0,887.06L1513.0,887.06L1513.0,886.44L1516.0,886.44L1516.0,887.06L1518.0,887.06L1518.0,888.3L1522.0,888.3L1522.0,887.09L1529.0,887.09L1529.0,888.3L1535.0,888.3L1535.0,887.01L1538.0,887.01L1538.0,888.3L1540.0,888.3L1540.0,886.35L1544.0,886.35L1544.0,888.3L1549.0,888.3L1549.0,887.48L1551.0,887.48L1551.0,886.07L1554.0,886.07L1554.0,887.48L1556.0,887.48L1556.0,888.3L1560.0,888.3L1560.0,887.43L1566.0,887.43L1566.0,888.3L1568.0,888.3L1568.0,884.8L1572.0,884.8L1572.0,888.3L1581.0,888.3L1581.0,886.34L1584.0,886.34L1584.0,885.76L1587.0,885.76L1587.0,886.34L1588.0,886.34L1588.0,888.3L1610.0,888.3L1610.0,886.06L1617.0,886.06L1617.0,888.3L1619.0,888.3L1619.0,886.17L1624.0,886.17L1624.0,888.3L1628.0,888.3L1628.0,887.39L1630.0,887.39L1630.0,886.57L1632.0,886.57L1632.0,887.39L1633.0,887.39L1633.0,884.3L1643.0,884.3L1643.0,861.8L1647.0,861.8L1647.0,882.3L1651.0,882.3L1651.0,887.2L1653.0,887.2L1653.0,888.3L1658.0,888.3L1658.0,886.75L1662.0,886.75L1662.0,888.3L1666.0,888.3L1666.0,886.24L1673.0,886.24L1673.0,888.3L1679.0,888.3L1679.0,887.1L1684.0,887.1L1684.0,888.3L1687.0,888.3L1687.0,875.3L1690.0,875.3L1690.0,887.13L1692.0,887.13L1692.0,888.3L1696.0,888.3L1696.0,887.44L1697.0,887.44L1697.0,886.6L1701.0,886.6L1701.0,888.3L1708.0,888.3L1708.0,886.2L1712.0,886.2L1712.0,888.3L1722.0,888.3L1722.0,886.75L1723.0,886.75L1723.0,885.42L1726.0,885.42L1726.0,886.75L1727.0,886.75L1727.0,888.3L1736.0,888.3L1736.0,886.84L1741.0,886.84L1741.0,888.3L1754.0,888.3L1754.0,886.14L1758.0,886.14L1758.0,888.3L1766.0,888.3L1766.0,885.74L1768.0,885.74L1768.0,884.91L1772.0,884.91L1772.0,885.74L1773.0,885.74L1773.0,888.3L1777.0,888.3L1777.0,887.17L1785.0,887.17L1785.0,888.3L1793.0,888.3L1793.0,886.97L1797.0,886.97L1797.0,888.3L1804.0,888.3L1804.0,885.92L1811.0,885.92L1811.0,888.3L1826.0,888.3L1826.0,885.54L1833.0,885.54L1833.0,888.3L1836.0,888.3L1836.0,885.1L1858.0,885.1L1858.0,879.3L1862.0,879.3L1862.0,884.3L1870.0,884.3L1870.0,888.3L1873.0,888.3L1873.0,886.08L1878.0,886.08L1878.0,888.3L1882.0,888.3L1882.0,887.27L1884.0,887.27L1884.0,885.93L1888.0,885.93L1888.0,887.27L1889.0,887.27L1889.0,888.3L1915.0,888.3L1915.0,886.25L1916.0,886.25L1916.0,884.9L1919.0,884.9L1919.0,888.3L1921.0,888.3L1921.0,885.63L1925.0,885.63L1925.0,888.3L1933.0,888.3L1933.0,886.94L1940.0,886.94L1940.0,880.8L1944.0,880.8L1944.0,886.64L1945.0,886.64L1945.0,887.17L1946.0,887.17L1946.0,888.3L1957.0,888.3L1957.0,886.35L1961.0,886.35L1961.0,888.3L1974.0,888.3L1974.0,886.26L1976.0,886.26L1976.0,885.66L1979.0,885.66L1979.0,886.26L1981.0,886.26L1981.0,888.3L1998.0,888.3L1998.0,886.99L2000.0,886.99L2000.0,885.7L2003.0,885.7L2003.0,888.3L2016.0,888.3L2016.0,886.04L2018.0,886.04L2018.0,885.24L2021.0,885.24L2021.0,886.04L2023.0,886.04L2023.0,888.3L2027.0,888.3L2027.0,885.51L2030.0,885.51L2030.0,884.09L2034.0,884.09L2034.0,885.51L2035.0,885.51L2035.0,888.3L2040.0,888.3L2040.0,885.93L2042.0,885.93L2042.0,884.45L2045.0,884.45L2045.0,885.93L2046.0,885.93L2046.0,888.3L2056.0,888.3L2056.0,873.8L2060.0,873.8L2060.0,888.3L2061.0,888.3L2061.0,887.33L2068.0,887.33L2068.0,888.3L2073.0,888.3L2073.0,887.17L2078.0,887.17L2078.0,884.8L2088.0,884.8L2088.0,879.3L2091.0,879.3L2091.0,888.3L2094.0,888.3L2094.0,877.3L2098.0,877.3L2098.0,883.3L2101.0,883.3L2101.0,887.37L2103.0,887.37L2103.0,888.3L2125.0,888.3L2125.0,886.35L2131.0,886.35L2131.0,888.3L2137.0,888.3L2137.0,886.62L2142.0,886.62L2142.0,888.3L2145.0,888.3L2145.0,885.97L2146.0,885.97L2146.0,884.56L2148.0,884.56L2148.0,885.97L2149.0,885.97L2149.0,888.3L2151.0,888.3L2151.0,886.87L2153.0,886.87L2153.0,885.84L2156.0,885.84L2156.0,888.3L2158.0,888.3L2158.0,887.4L2160.0,887.4L2160.0,886.66L2162.0,886.66L2162.0,887.4L2164.0,887.4L2164.0,888.3L2167.0,888.3L2167.0,885.83L2172.0,885.83L2172.0,888.3L2177.0,888.3L2177.0,886.13L2179.0,886.13L2179.0,884.88L2182.0,884.88L2182.0,886.13L2184.0,886.13L2184.0,888.3L2190.0,888.3L2190.0,886.23L2196.0,886.23L2196.0,888.3L2199.0,888.3L2199.0,885.55L2201.0,885.55L2201.0,879.3L2205.0,879.3L2205.0,885.55L2206.0,885.55L2206.0,888.3L2215.0,888.3L2215.0,882.8L2221.0,882.8L2221.0,888.3L2222.0,888.3L2222.0,886.05L2223.0,886.05L2223.0,885.13L2226.0,885.13L2226.0,888.3L2231.0,888.3L2231.0,886.99L2235.0,886.99L2235.0,888.3L2243.0,888.3L2243.0,887.27L2244.0,887.27L2244.0,886.57L2248.0,886.57L2248.0,887.27L2249.0,887.27L2249.0,888.3L2255.0,888.3L2255.0,886.48L2261.0,886.48L2261.0,888.3L2264.5,888.3L2264.5,893.5Z" fill="#7F0AF7"/>
<path d="M49,959.8L49.0,954.7L53.0,954.7L53.0,950.58L57.0,950.58L57.0,952.98L61.0,952.98L61.0,950.95L67.0,950.95L67.0,954.7L69.0,954.7L69.0,953.72L75.0,953.72L75.0,954.7L83.0,954.7L83.0,953.81L85.0,953.81L85.0,952.5L87.0,952.5L87.0,953.81L90.0,953.81L90.0,954.7L99.0,954.7L99.0,952.92L102.0,952.92L102.0,954.7L111.0,954.7L111.0,953.74L112.0,953.74L112.0,951.82L117.0,951.82L117.0,954.7L119.0,954.7L119.0,953.87L124.0,953.87L124.0,954.7L129.0,954.7L129.0,953.38L136.0,953.38L136.0,954.7L142.0,954.7L142.0,953.44L144.0,953.44L144.0,951.95L148.0,951.95L148.0,954.7L149.0,954.7L149.0,951.82L154.0,951.82L154.0,954.7L162.0,954.7L162.0,953.58L164.0,953.58L164.0,950.58L169.0,950.58L169.0,954.7L180.0,954.7L180.0,953.05L183.0,953.05L183.0,948.82L191.0,948.82L191.0,954.7L199.0,954.7L199.0,945.95L203.0,945.95L203.0,935.95L206.0,935.95L206.0,940.95L208.0,940.95L208.0,949.7L209.0,949.7L209.0,953.9L210.0,953.9L210.0,952.93L213.0,952.93L213.0,949.08L217.0,949.08L217.0,952.2L225.0,952.2L225.0,954.7L235.0,954.7L235.0,952.2L240.0,952.2L240.0,954.7L243.0,954.7L243.0,953.83L248.0,953.83L248.0,954.7L254.0,954.7L254.0,952.2L257.0,952.2L257.0,945.95L259.0,945.95L259.0,926.2L263.0,926.2L263.0,927.82L265.0,927.82L265.0,947.2L267.0,947.2L267.0,950.95L271.0,950.95L271.0,954.7L274.0,954.7L274.0,950.95L279.0,950.95L279.0,953.71L282.0,953.71L282.0,954.7L284.0,954.7L284.0,953.78L290.0,953.78L290.0,952.2L294.0,952.2L294.0,952.93L298.0,952.93L298.0,954.7L301.0,954.7L301.0,953.69L304.0,953.69L304.0,952.2L309.0,952.2L309.0,949.7L314.0,949.7L314.0,948.87L318.0,948.87L318.0,954.7L323.0,954.7L323.0,953.8L329.0,953.8L329.0,954.7L332.0,954.7L332.0,953.13L333.0,953.13L333.0,952.55L336.0,952.55L336.0,954.7L338.0,954.7L338.0,953.66L344.0,953.66L344.0,954.7L348.0,954.7L348.0,952.94L353.0,952.94L353.0,954.7L360.0,954.7L360.0,953.72L363.0,953.72L363.0,952.4L366.0,952.4L366.0,953.72L368.0,953.72L368.0,954.7L371.0,954.7L371.0,953.16L375.0,953.16L375.0,954.7L376.0,954.7L376.0,948.87L380.0,948.87L380.0,953.02L385.0,953.02L385.0,950.03L390.0,950.03L390.0,953.86L393.0,953.86L393.0,954.7L396.0,954.7L396.0,953.64L403.0,953.64L403.0,954.7L410.0,954.7L410.0,953.72L411.0,953.72L411.0,947.2L416.0,947.2L416.0,953.34L420.0,953.34L420.0,954.7L428.0,954.7L428.0,952.98L429.0,952.98L429.0,952.21L431.0,952.21L431.0,952.98L432.0,952.98L432.0,954.7L437.0,954.7L437.0,953.72L441.0,953.72L441.0,954.7L448.0,954.7L448.0,953.54L451.0,953.54L451.0,954.7L480.0,954.7L480.0,953.21L486.0,953.21L486.0,954.7L488.0,954.7L488.0,953.88L491.0,953.88L491.0,954.7L501.0,954.7L501.0,953.88L509.0,953.88L509.0,954.7L514.0,954.7L514.0,953.58L521.0,953.58L521.0,954.7L522.0,954.7L522.0,953.16L528.0,953.16L528.0,954.7L539.0,954.7L539.0,953.11L545.0,953.11L545.0,954.7L549.0,954.7L549.0,953.0L554.0,953.0L554.0,952.2L558.0,952.2L558.0,954.7L560.0,954.7L560.0,953.04L567.0,953.04L567.0,954.7L575.0,954.7L575.0,953.32L580.0,953.32L580.0,954.7L582.0,954.7L582.0,952.91L588.0,952.91L588.0,954.7L597.0,954.7L597.0,952.2L601.0,952.2L601.0,948.87L606.0,948.87L606.0,954.7L608.0,954.7L608.0,953.82L615.0,953.82L615.0,954.7L616.0,954.7L616.0,953.42L618.0,953.42L618.0,952.42L622.0,952.42L622.0,952.7L624.0,952.7L624.0,950.53L629.0,950.53L629.0,954.7L630.0,954.7L630.0,953.64L632.0,953.64L632.0,952.47L635.0,952.47L635.0,953.64L637.0,953.64L637.0,948.87L643.0,948.87L643.0,952.99L644.0,952.99L644.0,954.7L649.0,954.7L649.0,953.57L657.0,953.57L657.0,954.7L659.0,954.7L659.0,953.09L664.0,953.09L664.0,954.7L669.0,954.7L669.0,952.2L672.0,952.2L672.0,948.87L678.0,948.87L678.0,954.7L680.0,954.7L680.0,953.32L682.0,953.32L682.0,952.32L684.0,952.32L684.0,953.32L685.0,953.32L685.0,954.7L699.0,954.7L699.0,953.19L706.0,953.19L706.0,954.7L709.0,954.7L709.0,953.45L710.0,953.45L710.0,952.54L713.0,952.54L713.0,954.7L721.0,954.7L721.0,953.58L726.0,953.58L726.0,954.7L743.0,954.7L743.0,947.2L749.0,947.2L749.0,944.37L754.0,944.37L754.0,949.7L756.0,949.7L756.0,953.83L757.0,953.83L757.0,953.28L761.0,953.28L761.0,954.7L765.0,954.7L765.0,951.03L772.0,951.03L772.0,948.87L777.0,948.87L777.0,941.03L785.0,941.03L785.0,943.03L788.0,943.03L788.0,906.37L790.0,906.37L790.0,900.53L795.0,900.53L795.0,918.87L796.0,918.87L796.0,946.37L797.0,946.37L797.0,953.09L799.0,953.09L799.0,934.37L804.0,934.37L804.0,941.37L806.0,941.37L806.0,951.37L811.0,951.37L811.0,952.45L813.0,952.45L813.0,953.42L814.0,953.42L814.0,954.7L815.0,954.7L815.0,951.37L819.0,951.37L819.0,948.87L825.0,948.87L825.0,952.61L828.0,952.61L828.0,954.7L835.0,954.7L835.0,953.51L837.0,953.51L837.0,952.2L841.0,952.2L841.0,953.51L842.0,953.51L842.0,950.53L848.0,950.53L848.0,954.7L852.0,954.7L852.0,950.53L859.0,950.53L859.0,952.97L863.0,952.97L863.0,954.7L865.0,954.7L865.0,953.27L870.0,953.27L870.0,954.7L874.0,954.7L874.0,953.02L880.0,953.02L880.0,954.7L881.0,954.7L881.0,950.53L886.0,950.53L886.0,954.7L901.0,954.7L901.0,953.25L903.0,953.25L903.0,951.93L907.0,951.93L907.0,954.7L915.0,954.7L915.0,953.69L918.0,953.69L918.0,950.53L925.0,950.53L925.0,951.7L932.0,951.7L932.0,941.03L938.0,941.03L938.0,954.7L950.0,954.7L950.0,953.36L954.0,953.36L954.0,952.2L959.0,952.2L959.0,954.7L962.0,954.7L962.0,953.04L964.0,953.04L964.0,952.1L966.0,952.1L966.0,953.04L969.0,953.04L969.0,954.7L976.0,954.7L976.0,953.41L978.0,953.41L978.0,952.85L982.0,952.85L982.0,953.41L983.0,953.41L983.0,954.7L985.0,954.7L985.0,952.2L990.0,952.2L990.0,954.7L994.0,954.7L994.0,946.03L999.0,946.03L999.0,954.7L1001.0,954.7L1001.0,953.38L1005.0,953.38L1005.0,954.7L1018.0,954.7L1018.0,952.95L1023.0,952.95L1023.0,952.2L1028.0,952.2L1028.0,954.7L1047.0,954.7L1047.0,953.68L1050.0,953.68L1050.0,954.7L1054.0,954.7L1054.0,953.26L1055.0,953.26L1055.0,950.53L1060.0,950.53L1060.0,954.7L1074.0,954.7L1074.0,953.59L1080.0,953.59L1080.0,954.7L1094.0,954.7L1094.0,953.69L1102.0,953.69L1102.0,954.7L1117.0,954.7L1117.0,951.03L1122.0,951.03L1122.0,954.7L1127.0,954.7L1127.0,953.33L1128.0,953.33L1128.0,952.32L1132.0,952.32L1132.0,954.7L1140.0,954.7L1140.0,952.93L1143.0,952.93L1143.0,954.7L1148.0,954.7L1148.0,953.34L1155.0,953.34L1155.0,954.7L1158.0,954.7L1158.0,946.03L1164.0,946.03L1164.0,951.03L1170.0,951.03L1170.0,954.7L1190.0,954.7L1190.0,953.63L1198.0,953.63L1198.0,954.7L1200.0,954.7L1200.0,953.08L1205.0,953.08L1205.0,954.7L1210.0,954.7L1210.0,953.71L1215.0,953.71L1215.0,954.7L1234.0,954.7L1234.0,953.12L1235.0,953.12L1235.0,952.39L1237.0,952.39L1237.0,952.2L1242.0,952.2L1242.0,954.7L1246.0,954.7L1246.0,950.53L1251.0,950.53L1251.0,953.54L1252.0,953.54L1252.0,954.7L1253.0,954.7L1253.0,953.78L1260.0,953.78L1260.0,954.7L1263.0,954.7L1263.0,953.37L1267.0,953.37L1267.0,954.7L1271.0,954.7L1271.0,953.37L1273.0,953.37L1273.0,952.24L1275.0,952.24L1275.0,953.37L1276.0,953.37L1276.0,954.7L1285.0,954.7L1285.0,953.05L1290.0,953.05L1290.0,954.7L1305.0,954.7L1305.0,953.16L1309.0,953.16L1309.0,954.7L1326.0,954.7L1326.0,953.59L1331.0,953.59L1331.0,954.7L1334.0,954.7L1334.0,953.01L1336.0,953.01L1336.0,951.79L1338.0,951.79L1338.0,953.01L1342.0,953.01L1342.0,954.7L1345.0,954.7L1345.0,953.07L1348.0,953.07L1348.0,954.7L1360.0,954.7L1360.0,953.5L1364.0,953.5L1364.0,954.7L1365.0,954.7L1365.0,953.22L1369.0,953.22L1369.0,954.7L1394.0,954.7L1394.0,953.39L1398.0,953.39L1398.0,954.7L1403.0,954.7L1403.0,953.71L1405.0,953.71L1405.0,953.17L1408.0,953.17L1408.0,953.71L1410.0,953.71L1410.0,954.7L1416.0,954.7L1416.0,953.33L1418.0,953.33L1418.0,952.63L1421.0,952.63L1421.0,953.33L1422.0,953.33L1422.0,954.7L1436.0,954.7L1436.0,952.97L1438.0,952.97L1438.0,951.52L1440.0,951.52L1440.0,952.97L1442.0,952.97L1442.0,950.53L1448.0,950.53L1448.0,954.7L1449.0,954.7L1449.0,953.57L1456.0,953.57L1456.0,954.7L1462.0,954.7L1462.0,953.3L1464.0,953.3L1464.0,951.95L1465.0,951.95L1465.0,950.53L1469.0,950.53L1469.0,954.7L1470.0,954.7L1470.0,953.16L1475.0,953.16L1475.0,954.7L1477.0,954.7L1477.0,953.39L1479.0,953.39L1479.0,952.09L1482.0,952.09L1482.0,954.7L1491.0,954.7L1491.0,953.27L1498.0,953.27L1498.0,954.7L1505.0,954.7L1505.0,952.92L1511.0,952.92L1511.0,954.7L1514.0,954.7L1514.0,953.16L1522.0,953.16L1522.0,954.7L1534.0,954.7L1534.0,953.0L1539.0,953.0L1539.0,954.7L1549.0,954.7L1549.0,953.13L1556.0,953.13L1556.0,954.7L1566.0,954.7L1566.0,953.56L1569.0,953.56L1569.0,954.7L1570.0,954.7L1570.0,953.26L1575.0,953.26L1575.0,954.7L1578.0,954.7L1578.0,953.23L1580.0,953.23L1580.0,952.16L1583.0,952.16L1583.0,953.23L1585.0,953.23L1585.0,954.7L1592.0,954.7L1592.0,952.9L1597.0,952.9L1597.0,954.7L1606.0,954.7L1606.0,952.92L1608.0,952.92L1608.0,951.68L1611.0,951.68L1611.0,952.92L1613.0,952.92L1613.0,954.7L1616.0,954.7L1616.0,953.85L1618.0,953.85L1618.0,953.25L1620.0,953.25L1620.0,953.85L1621.0,953.85L1621.0,954.7L1624.0,954.7L1624.0,953.35L1632.0,953.35L1632.0,954.7L1633.0,954.7L1633.0,952.2L1638.0,952.2L1638.0,954.7L1652.0,954.7L1652.0,950.53L1659.0,950.53L1659.0,952.9L1662.0,952.9L1662.0,954.7L1666.0,954.7L1666.0,952.7L1673.0,952.7L1673.0,947.2L1679.0,947.2L1679.0,954.7L1680.0,954.7L1680.0,953.74L1682.0,953.74L1682.0,952.2L1689.0,952.2L1689.0,954.7L1690.0,954.7L1690.0,953.29L1691.0,953.29L1691.0,952.37L1695.0,952.37L1695.0,951.03L1701.0,951.03L1701.0,953.53L1703.0,953.53L1703.0,952.47L1706.0,952.47L1706.0,953.53L1707.0,953.53L1707.0,954.7L1711.0,954.7L1711.0,953.6L1713.0,953.6L1713.0,953.06L1715.0,953.06L1715.0,953.6L1717.0,953.6L1717.0,954.7L1719.0,954.7L1719.0,953.51L1726.0,953.51L1726.0,954.7L1737.0,954.7L1737.0,952.91L1740.0,952.91L1740.0,954.7L1742.0,954.7L1742.0,953.47L1749.0,953.47L1749.0,954.7L1773.0,954.7L1773.0,952.2L1779.0,952.2L1779.0,953.38L1780.0,953.38L1780.0,954.7L1790.0,954.7L1790.0,952.92L1795.0,952.92L1795.0,954.7L1802.0,954.7L1802.0,953.28L1806.0,953.28L1806.0,954.7L1809.0,954.7L1809.0,953.37L1810.0,953.37L1810.0,952.2L1813.0,952.2L1813.0,954.7L1817.0,954.7L1817.0,953.32L1821.0,953.32L1821.0,954.7L1833.0,954.7L1833.0,952.9L1839.0,952.9L1839.0,954.7L1849.0,954.7L1849.0,953.79L1853.0,953.79L1853.0,954.7L1865.0,954.7L1865.0,953.54L1867.0,953.54L1867.0,952.48L1870.0,952.48L1870.0,953.54L1871.0,953.54L1871.0,954.7L1878.0,954.7L1878.0,953.15L1880.0,953.15L1880.0,951.67L1883.0,951.67L1883.0,953.15L1884.0,953.15L1884.0,954.7L1903.0,954.7L1903.0,953.86L1905.0,953.86L1905.0,952.94L1908.0,952.94L1908.0,953.86L1910.0,953.86L1910.0,954.7L1918.0,954.7L1918.0,953.36L1919.0,953.36L1919.0,952.18L1921.0,952.18L1921.0,954.7L1928.0,954.7L1928.0,953.53L1934.0,953.53L1934.0,954.7L1937.0,954.7L1937.0,953.16L1942.0,953.16L1942.0,954.7L1943.0,954.7L1943.0,953.09L1947.0,953.09L1947.0,954.7L1958.0,954.7L1958.0,953.48L1959.0,953.48L1959.0,952.61L1963.0,952.61L1963.0,954.7L1970.0,954.7L1970.0,953.57L1978.0,953.57L1978.0,954.7L1989.0,954.7L1989.0,953.47L1997.0,953.47L1997.0,954.7L1998.0,954.7L1998.0,953.82L2001.0,953.82L2001.0,952.84L2004.0,952.84L2004.0,953.82L2006.0,953.82L2006.0,954.7L2015.0,954.7L2015.0,953.12L2016.0,953.12L2016.0,951.96L2019.0,951.96L2019.0,954.7L2021.0,954.7L2021.0,953.18L2025.0,953.18L2025.0,954.7L2029.0,954.7L2029.0,953.54L2032.0,953.54L2032.0,954.7L2037.0,954.7L2037.0,953.19L2040.0,953.19L2040.0,954.7L2051.0,954.7L2051.0,946.51L2057.0,946.51L2057.0,951.78L2062.0,951.78L2062.0,949.83L2067.0,949.83L2067.0,942.03L2073.0,942.03L2073.0,949.83L2075.0,949.83L2075.0,954.7L2079.0,954.7L2079.0,953.58L2083.0,953.58L2083.0,950.22L2088.0,950.22L2088.0,954.7L2093.0,954.7L2093.0,951.78L2102.0,951.78L2102.0,954.7L2104.0,954.7L2104.0,925.86L2110.0,925.86L2110.0,953.65L2111.0,953.65L2111.0,954.7L2115.0,954.7L2115.0,953.5L2120.0,953.5L2120.0,954.7L2122.0,954.7L2122.0,953.1L2128.0,953.1L2128.0,954.7L2142.0,954.7L2142.0,953.72L2148.0,953.72L2148.0,954.7L2164.0,954.7L2164.0,953.88L2168.0,953.88L2168.0,954.7L2175.0,954.7L2175.0,952.93L2180.0,952.93L2180.0,954.7L2193.0,954.7L2193.0,953.35L2196.0,953.35L2196.0,954.7L2198.0,954.7L2198.0,953.16L2201.0,953.16L2201.0,954.7L2203.0,954.7L2203.0,953.76L2209.0,953.76L2209.0,954.7L2217.0,954.7L2217.0,953.68L2222.0,953.68L2222.0,954.7L2228.0,954.7L2228.0,953.51L2230.0,953.51L2230.0,952.33L2234.0,952.33L2234.0,953.51L2235.0,953.51L2235.0,954.7L2240.0,954.7L2240.0,953.18L2246.0,953.18L2246.0,954.7L2264.5,954.7L2264.5,959.8Z" fill="#0647FF"/>
<path d="M49,1036.1L49.0,1031.0L52.0,1031.0L52.0,1026.0L57.0,1026.0L57.0,1030.38L60.0,1030.38L60.0,1027.25L62.0,1027.25L62.0,1022.5L66.0,1022.5L66.0,1024.5L70.0,1024.5L70.0,1027.25L76.0,1027.25L76.0,1030.38L88.0,1030.38L88.0,959.12L96.0,959.12L96.0,987.88L97.0,987.88L97.0,1022.88L99.0,1022.88L99.0,1028.5L104.0,1028.5L104.0,1020.75L109.0,1020.75L109.0,1022.5L116.0,1022.5L116.0,1028.75L127.0,1028.75L127.0,1030.38L147.0,1030.38L147.0,1028.5L155.0,1028.5L155.0,1024.12L160.0,1024.12L160.0,1022.5L166.0,1022.5L166.0,1024.12L171.0,1024.12L171.0,1014.12L173.0,1014.12L173.0,972.62L178.0,972.62L178.0,974.75L179.0,974.75L179.0,992.25L181.0,992.25L181.0,997.25L183.0,997.25L183.0,995.75L187.0,995.75L187.0,999.75L189.0,999.75L189.0,1014.12L193.0,1014.12L193.0,1024.12L195.0,1024.12L195.0,976.0L197.0,976.0L197.0,972.62L201.0,972.62L201.0,991.0L203.0,991.0L203.0,999.12L204.0,999.12L204.0,1009.12L207.0,1009.12L207.0,1024.12L209.0,1024.12L209.0,1030.38L211.0,1030.38L211.0,1026.0L216.0,1026.0L216.0,1020.75L221.0,1020.75L221.0,1017.25L223.0,1017.25L223.0,1007.5L229.0,1007.5L229.0,1014.12L231.0,1014.12L231.0,1028.5L233.0,1028.5L233.0,1005.75L239.0,1005.75L239.0,1030.38L241.0,1030.38L241.0,1027.88L245.0,1027.88L245.0,1019.12L249.0,1019.12L249.0,1014.12L252.0,1014.12L252.0,1007.5L256.0,1007.5L256.0,969.12L258.0,969.12L258.0,959.12L262.0,959.12L262.0,962.62L267.0,962.62L267.0,991.0L269.0,991.0L269.0,1024.12L277.0,1024.12L277.0,1022.25L279.0,1022.25L279.0,1014.12L284.0,1014.12L284.0,1019.12L286.0,1019.12L286.0,1027.25L288.0,1027.25L288.0,1022.25L290.0,1022.25L290.0,1012.5L294.0,1012.5L294.0,1015.75L297.0,1015.75L297.0,1022.25L299.0,1022.25L299.0,1017.5L303.0,1017.5L303.0,1024.12L307.0,1024.12L307.0,1021.0L314.0,1021.0L314.0,1008.83L317.0,1008.83L317.0,1004.33L321.0,1004.33L321.0,1008.83L324.0,1008.83L324.0,1028.0L327.0,1028.0L327.0,1029.33L337.0,1029.33L337.0,1026.33L338.0,1026.33L338.0,1011.0L344.0,1011.0L344.0,1028.0L346.0,1028.0L346.0,1030.5L361.0,1030.5L361.0,1028.0L367.0,1028.0L367.0,1024.67L371.0,1024.67L371.0,1022.67L377.0,1022.67L377.0,1029.67L379.0,1029.67L379.0,1027.67L390.0,1027.67L390.0,1021.33L391.0,1021.33L391.0,1017.67L395.0,1017.67L395.0,1024.67L399.0,1024.67L399.0,1029.67L405.0,1029.67L405.0,1027.67L408.0,1027.67L408.0,1014.33L414.0,1014.33L414.0,1031.0L510.0,1031.0L510.0,1013.83L511.0,1013.83L511.0,1004.33L517.0,1004.33L517.0,1003.0L519.0,1003.0L519.0,994.33L524.0,994.33L524.0,1011.0L526.0,1011.0L526.0,1029.67L530.0,1029.67L530.0,1011.0L531.0,1011.0L531.0,961.33L533.0,961.33L533.0,959.33L537.0,959.33L537.0,985.5L539.0,985.5L539.0,1003.33L544.0,1003.33L544.0,1012.67L547.0,1012.67L547.0,1024.67L550.0,1024.67L550.0,1029.33L551.0,1029.33L551.0,1022.67L557.0,1022.67L557.0,1027.17L562.0,1027.17L562.0,1031.0L596.0,1031.0L596.0,1027.67L599.0,1027.67L599.0,1017.67L605.0,1017.67L605.0,1023.0L607.0,1023.0L607.0,1028.0L611.0,1028.0L611.0,1029.33L624.0,1029.33L624.0,1024.33L631.0,1024.33L631.0,1029.33L634.0,1029.33L634.0,988.0L636.0,988.0L636.0,986.0L640.0,986.0L640.0,999.33L642.0,999.33L642.0,1011.0L646.0,1011.0L646.0,1013.83L648.0,1013.83L648.0,1029.33L652.0,1029.33L652.0,1026.33L657.0,1026.33L657.0,1017.67L663.0,1017.67L663.0,1026.33L666.0,1026.33L666.0,1018.83L671.0,1018.83L671.0,1014.33L677.0,1014.33L677.0,1024.33L685.0,1024.33L685.0,1029.67L687.0,1029.67L687.0,1027.67L692.0,1027.67L692.0,1028.0L694.0,1028.0L694.0,1018.0L696.0,1018.0L696.0,1007.67L698.0,1007.67L698.0,1001.0L702.0,1001.0L702.0,1004.67L704.0,1004.67L704.0,1026.33L708.0,1026.33L708.0,1023.83L711.0,1023.83L711.0,1013.0L713.0,1013.0L713.0,1006.0L719.0,1006.0L719.0,1029.67L721.0,1029.67L721.0,1024.33L726.0,1024.33L726.0,1026.33L730.0,1026.33L730.0,1030.5L735.0,1030.5L735.0,1028.83L741.0,1028.83L741.0,1022.67L746.0,1022.67L746.0,976.33L747.0,976.33L747.0,961.0L752.0,961.0L752.0,989.67L754.0,989.67L754.0,999.33L757.0,999.33L757.0,1013.0L759.0,1013.0L759.0,1026.33L762.0,1026.33L762.0,1029.67L764.0,1029.67L764.0,1018.0L767.0,1018.0L767.0,1009.33L772.0,1009.33L772.0,1012.67L774.0,1012.67L774.0,964.67L776.0,964.67L776.0,962.67L780.0,962.67L780.0,993.0L782.0,993.0L782.0,999.33L784.0,999.33L784.0,1024.67L786.0,1024.67L786.0,1022.17L788.0,1022.17L788.0,1011.0L792.0,1011.0L792.0,1015.5L794.0,1015.5L794.0,1029.67L796.0,1029.67L796.0,1019.67L798.0,1019.67L798.0,976.0L803.0,976.0L803.0,1008.0L807.0,1008.0L807.0,1004.33L812.0,1004.33L812.0,1024.67L815.0,1024.67L815.0,1019.67L816.0,1019.67L816.0,1014.33L822.0,1014.33L822.0,1019.67L825.0,1019.67L825.0,1026.33L828.0,1026.33L828.0,1030.5L831.0,1030.5L831.0,1024.33L836.0,1024.33L836.0,1029.67L849.0,1029.67L849.0,1025.5L851.0,1025.5L851.0,1011.0L857.0,1011.0L857.0,1018.0L858.0,1018.0L858.0,1029.33L863.0,1029.33L863.0,1031.0L880.0,1031.0L880.0,1026.33L887.0,1026.33L887.0,1030.5L891.0,1030.5L891.0,1023.0L893.0,1023.0L893.0,1012.67L897.0,1012.67L897.0,1016.33L900.0,1016.33L900.0,1024.33L905.0,1024.33L905.0,1029.67L909.0,1029.67L909.0,1026.33L912.0,1026.33L912.0,1021.33L918.0,1021.33L918.0,1009.33L923.0,1009.33L923.0,1019.67L925.0,1019.67L925.0,1023.0L929.0,1023.0L929.0,1016.33L931.0,1016.33L931.0,959.33L937.0,959.33L937.0,984.67L938.0,984.67L938.0,1031.0L982.0,1031.0L982.0,1029.33L988.0,1029.33L988.0,1031.0L999.0,1031.0L999.0,1029.33L1005.0,1029.33L1005.0,1031.0L1015.0,1031.0L1015.0,1029.33L1021.0,1029.33L1021.0,1031.0L1060.0,1031.0L1060.0,1027.67L1069.0,1027.67L1069.0,1031.0L1114.0,1031.0L1114.0,1027.67L1121.0,1027.67L1121.0,1031.0L1125.0,1031.0L1125.0,1027.67L1131.0,1027.67L1131.0,1031.0L1194.0,1031.0L1194.0,1029.33L1200.0,1029.33L1200.0,1031.0L1206.0,1031.0L1206.0,1029.33L1211.0,1029.33L1211.0,1031.0L1236.0,1031.0L1236.0,1029.33L1241.0,1029.33L1241.0,1031.0L1249.0,1031.0L1249.0,1029.33L1261.0,1029.33L1261.0,1031.0L1299.0,1031.0L1299.0,1029.33L1304.0,1029.33L1304.0,1031.0L1353.0,1031.0L1353.0,1029.33L1361.0,1029.33L1361.0,1024.67L1367.0,1024.67L1367.0,1031.0L1375.0,1031.0L1375.0,1026.33L1380.0,1026.33L1380.0,1031.0L1515.0,1031.0L1515.0,1029.33L1521.0,1029.33L1521.0,1031.0L1641.0,1031.0L1641.0,1028.0L1642.0,1028.0L1642.0,1024.33L1655.0,1024.33L1655.0,1028.0L1658.0,1028.0L1658.0,1031.0L1671.0,1031.0L1671.0,1024.67L1674.0,1024.67L1674.0,1017.67L1680.0,1017.67L1680.0,1023.0L1683.0,1023.0L1683.0,1024.67L1691.0,1024.67L1691.0,1031.0L1693.0,1031.0L1693.0,1029.33L1700.0,1029.33L1700.0,1026.33L1712.0,1026.33L1712.0,1031.0L1716.0,1031.0L1716.0,1029.33L1721.0,1029.33L1721.0,1027.67L1729.0,1027.67L1729.0,1031.0L1733.0,1031.0L1733.0,1027.67L1739.0,1027.67L1739.0,1031.0L1768.0,1031.0L1768.0,1029.33L1774.0,1029.33L1774.0,1031.0L1833.0,1031.0L1833.0,1029.05L1842.0,1029.05L1842.0,1031.0L1845.0,1031.0L1845.0,1029.05L1852.0,1029.05L1852.0,1031.0L1911.0,1031.0L1911.0,1029.05L1917.0,1029.05L1917.0,1031.0L1939.0,1031.0L1939.0,1026.13L1945.0,1026.13L1945.0,1031.0L1947.0,1031.0L1947.0,1024.18L1954.0,1024.18L1954.0,1031.0L1958.0,1031.0L1958.0,1024.18L1964.0,1024.18L1964.0,1031.0L1969.0,1031.0L1969.0,1028.08L1976.0,1028.08L1976.0,1031.0L1978.0,1031.0L1978.0,1028.08L1985.0,1028.08L1985.0,1029.05L1994.0,1029.05L1994.0,1031.0L2002.0,1031.0L2002.0,1027.69L2005.0,1027.69L2005.0,1024.18L2010.0,1024.18L2010.0,1031.0L2032.0,1031.0L2032.0,1028.47L2040.0,1028.47L2040.0,1024.57L2048.0,1024.57L2048.0,1031.0L2051.0,1031.0L2051.0,1021.26L2056.0,1021.26L2056.0,1031.0L2059.0,1031.0L2059.0,1019.31L2071.0,1019.31L2071.0,1028.47L2077.0,1028.47L2077.0,1026.13L2085.0,1026.13L2085.0,1029.05L2089.0,1029.05L2089.0,1031.0L2092.0,1031.0L2092.0,1019.31L2094.0,1019.31L2094.0,1010.93L2098.0,1010.93L2098.0,1021.26L2100.0,1021.26L2100.0,1031.0L2122.0,1031.0L2122.0,1028.08L2130.0,1028.08L2130.0,1031.0L2264.5,1031.0L2264.5,1036.1Z" fill="#F6821D"/>
<rect x="2260.5" y="1076" width="3.5" height="4.5" fill="#F6821D"/>
<text x="58.5" y="331.3" text-anchor="start" fill="#F6821D" style="font-family:'Liberation Sans', sans-serif;font-size:19.7px;" >80</text>
<text x="58.5" y="359.8" text-anchor="start" fill="#F6821D" style="font-family:'Liberation Sans', sans-serif;font-size:19.7px;" >40</text>
<text x="57" y="406.3" text-anchor="start" fill="#0647FF" style="font-family:'Liberation Sans', sans-serif;font-size:19.7px;" >200</text>
<text x="57" y="435.3" text-anchor="start" fill="#0647FF" style="font-family:'Liberation Sans', sans-serif;font-size:19.7px;" >100</text>
<text x="58.5" y="471.3" text-anchor="start" fill="#7F0AF7" style="font-family:'Liberation Sans', sans-serif;font-size:19.7px;" >80</text>
<text x="58.5" y="499.8" text-anchor="start" fill="#7F0AF7" style="font-family:'Liberation Sans', sans-serif;font-size:19.7px;" >40</text>
<text x="59.2" y="837.2" text-anchor="start" fill="#7F0AF7" style="font-family:'Liberation Sans', sans-serif;font-size:19.7px;" >80</text>
<text x="59.2" y="865.6" text-anchor="start" fill="#7F0AF7" style="font-family:'Liberation Sans', sans-serif;font-size:19.7px;" >40</text>
<text x="60" y="912.4" text-anchor="start" fill="#0647FF" style="font-family:'Liberation Sans', sans-serif;font-size:19.7px;" >200</text>
<text x="60" y="943.4" text-anchor="start" fill="#0647FF" style="font-family:'Liberation Sans', sans-serif;font-size:19.7px;" >100</text>
<text x="58.5" y="980.0" text-anchor="start" fill="#F6821D" style="font-family:'Liberation Sans', sans-serif;font-size:19.7px;" >80</text>
<text x="58.5" y="1008.4" text-anchor="start" fill="#F6821D" style="font-family:'Liberation Sans', sans-serif;font-size:19.7px;" >40</text>
<text transform="translate(20.5,281.7) rotate(-90)" text-anchor="middle" fill="#3E8B40" style="font-family:'Liberation Sans', sans-serif;font-size:27px;">TSS</text>
<text transform="translate(20.5,351.5) rotate(-90)" text-anchor="middle" fill="#F6821D" style="font-family:'Liberation Sans', sans-serif;font-size:27px;">Hfq</text>
<text transform="translate(20.5,413.5) rotate(-90)" text-anchor="middle" fill="#0647FF" style="font-family:'Liberation Sans', sans-serif;font-size:27px;">rne</text>
<text transform="translate(20.5,484.5) rotate(-90)" text-anchor="middle" fill="#7F0AF7" style="font-family:'Liberation Sans', sans-serif;font-size:27px;">Term</text>
<text transform="translate(20.5,850) rotate(-90)" text-anchor="middle" fill="#7F0AF7" style="font-family:'Liberation Sans', sans-serif;font-size:27px;">Term</text>
<text transform="translate(20.5,925.6) rotate(-90)" text-anchor="middle" fill="#0647FF" style="font-family:'Liberation Sans', sans-serif;font-size:27px;">rne</text>
<text transform="translate(20.5,994.6) rotate(-90)" text-anchor="middle" fill="#F6821D" style="font-family:'Liberation Sans', sans-serif;font-size:27px;">Hfq</text>
<text transform="translate(20.5,1073) rotate(-90)" text-anchor="middle" fill="#3E8B40" style="font-family:'Liberation Sans', sans-serif;font-size:27px;">TSS</text>
<rect x="155" y="263.8" width="7.1" height="36.7" fill="#4A934C"/>
<rect x="261.5" y="263.8" width="7.1" height="36.7" fill="#4A934C"/>
<rect x="291.5" y="263.8" width="7.1" height="36.7" fill="#4A934C"/>
<rect x="303" y="263.8" width="7.1" height="36.7" fill="#4A934C"/>
<rect x="476.25" y="263.8" width="7.1" height="36.7" fill="#4A934C"/>
<rect x="770.75" y="263.8" width="7.1" height="36.7" fill="#4A934C"/>
<rect x="932.25" y="263.8" width="7.1" height="36.7" fill="#4A934C"/>
<rect x="967.2" y="263.8" width="7.1" height="36.7" fill="#4A934C"/>
<rect x="1376.5" y="263.8" width="7.1" height="36.7" fill="#4A934C"/>
<rect x="1662.8" y="263.8" width="7.1" height="36.7" fill="#4A934C"/>
<rect x="1679.3" y="263.8" width="7.1" height="36.7" fill="#4A934C"/>
<rect x="2176" y="263.8" width="7.1" height="36.7" fill="#4A934C"/>
<rect x="156.75" y="1046" width="7.1" height="36.7" fill="#4A934C"/>
<rect x="201.75" y="1046" width="7.1" height="36.7" fill="#4A934C"/>
<rect x="373" y="1046" width="7.1" height="36.7" fill="#4A934C"/>
<rect x="406.25" y="1046" width="7.1" height="36.7" fill="#4A934C"/>
<rect x="819" y="1046" width="7.1" height="36.7" fill="#4A934C"/>
<rect x="860.3" y="1046" width="7.1" height="36.7" fill="#4A934C"/>
<rect x="922" y="1046" width="7.1" height="36.7" fill="#4A934C"/>
<rect x="1013.75" y="1046" width="7.1" height="36.7" fill="#4A934C"/>
<rect x="1183.5" y="1046" width="7.1" height="36.7" fill="#4A934C"/>
<rect x="1197" y="1046" width="7.1" height="36.7" fill="#4A934C"/>
<rect x="1652.75" y="1046" width="7.1" height="36.7" fill="#4A934C"/>
<rect x="1671" y="1046" width="7.1" height="36.7" fill="#4A934C"/>
<rect x="1726" y="1046" width="7.1" height="36.7" fill="#4A934C"/>
<rect x="1866" y="1046" width="7.1" height="36.7" fill="#4A934C"/>
<rect x="2024.3" y="1046" width="7.1" height="36.7" fill="#4A934C"/>
<rect x="2205.3" y="1046" width="7.1" height="36.7" fill="#4A934C"/>
<rect x="33" y="678" width="2230.5" height="3.1" fill="#000"/>
<rect x="74.4" y="674.6" width="3" height="10.2" fill="#000"/>
<text x="75.10000000000001" y="671.3" text-anchor="start" fill="#000" style="font-family:'Liberation Mono', monospace;font-size:19.85px;font-weight:bold;" >4,590,000</text>
<rect x="407.6" y="674.6" width="3" height="10.2" fill="#000"/>
<text x="408.3" y="671.3" text-anchor="start" fill="#000" style="font-family:'Liberation Mono', monospace;font-size:19.85px;font-weight:bold;" >4,595,000</text>
<rect x="740.8" y="674.6" width="3" height="10.2" fill="#000"/>
<text x="741.5" y="671.3" text-anchor="start" fill="#000" style="font-family:'Liberation Mono', monospace;font-size:19.85px;font-weight:bold;" >4,600,000</text>
<rect x="1074.0" y="674.6" width="3" height="10.2" fill="#000"/>
<text x="1074.7" y="671.3" text-anchor="start" fill="#000" style="font-family:'Liberation Mono', monospace;font-size:19.85px;font-weight:bold;" >4,605,000</text>
<rect x="1407.2" y="674.6" width="3" height="10.2" fill="#000"/>
<text x="1407.9" y="671.3" text-anchor="start" fill="#000" style="font-family:'Liberation Mono', monospace;font-size:19.85px;font-weight:bold;" >4,610,000</text>
<rect x="1740.4" y="674.6" width="3" height="10.2" fill="#000"/>
<text x="1741.1000000000001" y="671.3" text-anchor="start" fill="#000" style="font-family:'Liberation Mono', monospace;font-size:19.85px;font-weight:bold;" >4,615,000</text>
<rect x="2073.6" y="674.6" width="3" height="10.2" fill="#000"/>
<text x="2065.6" y="671.3" text-anchor="start" fill="#000" style="font-family:'Liberation Mono', monospace;font-size:19.85px;font-weight:bold;" >4,620,000</text>
<ellipse cx="441" cy="35.6" rx="59.6" ry="36.4" fill="#FDA85E" stroke="#000" stroke-width="1.5"/>
<text x="441.9" y="46.3" text-anchor="middle" fill="#000" style="font-family:'Liberation Sans', sans-serif;font-size:33.7px;" >RapZ</text>
<path d="M582.5,24.9 L519,24.9" fill="none" stroke="#000" stroke-width="1.5" stroke-linecap="butt" stroke-linejoin="miter"/>
<rect x="517.4" y="15.599999999999998" width="3" height="18.6" fill="#000"/>
<path d="M597.31,2.82 L597.7,2.91 L598.09,3.08 L598.49,3.31 L598.88,3.61 L599.27,3.98 L599.67,4.42 L600.06,4.92 L600.45,5.48 L600.85,6.12 L601.24,6.84 L601.63,7.69 L602.03,8.9 L602.42,9.76 L602.81,10.47 L603.21,11.11 L603.6,11.68 L603.99,12.18 L604.39,12.61 L604.78,12.98 L605.17,13.29 L605.57,13.52 L605.96,13.68 L606.35,13.78 L606.75,13.8 L607.14,13.75 L607.53,13.63 L607.93,13.43 L608.32,13.17 L608.72,12.84 L609.11,12.44 L609.5,11.98 L609.9,11.45 L610.29,10.86 L610.68,10.19 L611.08,9.43 L611.47,8.44 L611.86,7.31 L612.26,6.53 L612.65,5.85 L613.04,5.24 L613.44,4.7 L613.83,4.23 L614.22,3.82 L614.62,3.48 L615.01,3.21 L615.4,3.0 L615.8,2.87 L616.19,2.8 L616.58,2.81 L616.98,2.9 L617.37,3.05 L617.76,3.27 L618.16,3.56 L618.55,3.92 L618.94,4.35 L619.34,4.84 L619.73,5.39 L620.12,6.02 L620.52,6.72 L620.91,7.54 L621.3,8.75 L621.7,9.64 L622.09,10.37 L622.48,11.02 L622.88,11.6 L623.27,12.11 L623.66,12.55 L624.06,12.93 L624.45,13.25 L624.84,13.49 L625.24,13.66 L625.63,13.77 L626.02,13.8 L626.42,13.76 L626.81,13.65 L627.2,13.47 L627.6,13.21 L627.99,12.89 L628.38,12.5 L628.78,12.05 L629.17,11.53 L629.56,10.95 L629.96,10.29 L630.35,9.55 L630.74,8.63 L631.14,7.44 L631.53,6.64 L631.92,5.94 L632.32,5.33 L632.71,4.78 L633.1,4.3 L633.5,3.88 L633.89,3.53 L634.28,3.24 L634.68,3.03 L635.07,2.88 L635.46,2.81 L635.86,2.81 L636.25,2.88 L636.64,3.02 L637.04,3.23 L637.43,3.52 L637.82,3.86 L638.22,4.28 L638.61,4.76 L639.0,5.31 L639.4,5.92 L639.79,6.61 L640.18,7.41 L640.58,8.59 L640.97,9.52 L641.36,10.27 L641.76,10.93 L642.15,11.51 L642.54,12.03 L642.94,12.49 L643.33,12.88 L643.72,13.2 L644.12,13.46 L644.51,13.64 L644.9,13.76 L645.3,13.8 L645.69,13.77 L646.08,13.67 L646.48,13.5 L646.87,13.26 L647.26,12.94 L647.66,12.57 L648.05,12.12 L648.44,11.61 L648.84,11.04 L649.23,10.4 L649.62,9.67 L650.02,8.79 L650.41,7.58 L650.8,6.75 L651.2,6.04 L651.59,5.41 L651.98,4.86 L652.38,4.36 L652.77,3.94 L653.16,3.57 L653.56,3.28 L653.95,3.05 L654.34,2.9 L654.74,2.82 L655.13,2.8 L655.52,2.86 L655.92,3.0 L656.31,3.2 L656.7,3.47 L657.1,3.81 L657.49,4.21 L657.88,4.68 L658.28,5.22 L658.67,5.82 L659.06,6.5 L659.46,7.28 L659.85,8.39 L660.24,9.4 L660.64,10.16 L661.03,10.83 L661.42,11.43 L661.82,11.96 L662.21,12.43 L662.6,12.83 L663.0,13.16 L663.39,13.42 L663.78,13.62 L664.18,13.74 L664.57,13.8 L664.97,13.78 L665.36,13.69 L665.75,13.53 L666.15,13.3 L666.54,13.0 L666.93,12.63 L667.33,12.19 L667.72,11.7 L668.11,11.13 L668.51,10.5 L668.9,9.78 L669.29,8.94 L669.69,7.72 L670.08,6.86 L670.47,6.14 L670.87,5.5 L671.26,4.94 L671.65,4.43 L672.05,4.0 L672.44,3.62 L672.83,3.32 L673.23,3.08 L673.62,2.92 L674.01,2.82 L674.41,2.8 L674.8,2.85 L675.19,2.97 L675.59,3.16 L675.98,3.42 L676.37,3.75 L676.77,4.15 L677.16,4.61 L677.55,5.14 L677.95,5.73 L678.34,6.4 L678.73,7.15 L679.13,8.13 L679.52,9.27 L679.91,10.06 L680.31,10.74 L680.7,11.35 L681.09,11.89 L681.49,12.36 L681.88,12.77 L682.27,13.11 L682.67,13.39 L683.06,13.6 L683.45,13.73 L683.85,13.79" fill="none" stroke="#000" stroke-width="2.85" stroke-linecap="butt" stroke-linejoin="round"/>
<text x="641.6" y="47.5" text-anchor="middle" fill="#000" style="font-family:'Liberation Sans', sans-serif;font-size:33.7px;" >GlmY</text>
<path d="M436.5,75 L436.5,131" fill="none" stroke="#000" stroke-width="1.5" stroke-linecap="butt" stroke-linejoin="miter"/>
<rect x="426.9" y="129.8" width="18.6" height="3" fill="#000"/>
<circle cx="434.8" cy="147.1" r="9.9" fill="#DEDEDE" stroke="#757575" stroke-width="1.3"/>
<circle cx="456.75" cy="147.1" r="9.9" fill="#DEDEDE" stroke="#757575" stroke-width="1.3"/>
<circle cx="421.6" cy="163.1" r="9.9" fill="#DEDEDE" stroke="#757575" stroke-width="1.3"/>
<circle cx="469.8" cy="164.8" r="9.9" fill="#DEDEDE" stroke="#757575" stroke-width="1.3"/>
<circle cx="434.5" cy="180.7" r="9.9" fill="#DEDEDE" stroke="#757575" stroke-width="1.3"/>
<circle cx="456.3" cy="181.0" r="9.9" fill="#DEDEDE" stroke="#757575" stroke-width="1.3"/>
<path d="M401.21,156.52 L401.6,156.61 L401.99,156.78 L402.38,157.01 L402.77,157.31 L403.16,157.68 L403.56,158.12 L403.95,158.62 L404.34,159.18 L404.73,159.82 L405.12,160.54 L405.51,161.39 L405.9,162.6 L406.3,163.46 L406.69,164.17 L407.08,164.81 L407.47,165.38 L407.86,165.88 L408.25,166.31 L408.65,166.68 L409.04,166.99 L409.43,167.22 L409.82,167.38 L410.21,167.48 L410.6,167.5 L410.99,167.45 L411.39,167.33 L411.78,167.13 L412.17,166.87 L412.56,166.54 L412.95,166.14 L413.34,165.68 L413.74,165.15 L414.13,164.56 L414.52,163.89 L414.91,163.13 L415.3,162.14 L415.69,161.01 L416.09,160.23 L416.48,159.55 L416.87,158.94 L417.26,158.4 L417.65,157.93 L418.04,157.52 L418.43,157.18 L418.83,156.91 L419.22,156.7 L419.61,156.57 L420.0,156.5 L420.39,156.51 L420.78,156.6 L421.18,156.75 L421.57,156.97 L421.96,157.26 L422.35,157.62 L422.74,158.05 L423.13,158.54 L423.52,159.09 L423.92,159.72 L424.31,160.42 L424.7,161.24 L425.09,162.45 L425.48,163.34 L425.87,164.07 L426.27,164.72 L426.66,165.3 L427.05,165.81 L427.44,166.25 L427.83,166.63 L428.22,166.95 L428.61,167.19 L429.01,167.36 L429.4,167.47 L429.79,167.5 L430.18,167.46 L430.57,167.35 L430.96,167.17 L431.36,166.91 L431.75,166.59 L432.14,166.2 L432.53,165.75 L432.92,165.23 L433.31,164.65 L433.7,163.99 L434.1,163.25 L434.49,162.33 L434.88,161.14 L435.27,160.34 L435.66,159.64 L436.05,159.03 L436.45,158.48 L436.84,158.0 L437.23,157.58 L437.62,157.23 L438.01,156.94 L438.4,156.73 L438.79,156.58 L439.19,156.51 L439.58,156.51 L439.97,156.58 L440.36,156.72 L440.75,156.93 L441.14,157.22 L441.54,157.56 L441.93,157.98 L442.32,158.46 L442.71,159.01 L443.1,159.62 L443.49,160.31 L443.89,161.11 L444.28,162.29 L444.67,163.22 L445.06,163.97 L445.45,164.63 L445.84,165.21 L446.23,165.73 L446.63,166.19 L447.02,166.58 L447.41,166.9 L447.8,167.16 L448.19,167.34 L448.58,167.46 L448.98,167.5 L449.37,167.47 L449.76,167.37 L450.15,167.2 L450.54,166.96 L450.93,166.64 L451.32,166.27 L451.72,165.82 L452.11,165.31 L452.5,164.74 L452.89,164.1 L453.28,163.37 L453.67,162.49 L454.07,161.28 L454.46,160.45 L454.85,159.74 L455.24,159.11 L455.63,158.56 L456.02,158.06 L456.41,157.64 L456.81,157.27 L457.2,156.98 L457.59,156.75 L457.98,156.6 L458.37,156.52 L458.76,156.5 L459.16,156.56 L459.55,156.7 L459.94,156.9 L460.33,157.17 L460.72,157.51 L461.11,157.91 L461.5,158.38 L461.9,158.92 L462.29,159.52 L462.68,160.2 L463.07,160.98 L463.46,162.09 L463.85,163.1 L464.25,163.86 L464.64,164.53 L465.03,165.13 L465.42,165.66 L465.81,166.13 L466.2,166.53 L466.59,166.86 L466.99,167.12 L467.38,167.32 L467.77,167.44 L468.16,167.5 L468.55,167.48 L468.94,167.39 L469.34,167.23 L469.73,167.0 L470.12,166.7 L470.51,166.33 L470.9,165.89 L471.29,165.4 L471.68,164.83 L472.08,164.2 L472.47,163.48 L472.86,162.64 L473.25,161.42 L473.64,160.56 L474.03,159.84 L474.43,159.2 L474.82,158.64 L475.21,158.13 L475.6,157.7 L475.99,157.32 L476.38,157.02 L476.78,156.78 L477.17,156.62 L477.56,156.52 L477.95,156.5 L478.34,156.55 L478.73,156.67 L479.12,156.86 L479.52,157.12 L479.91,157.45 L480.3,157.85 L480.69,158.31 L481.08,158.84 L481.47,159.43 L481.87,160.1 L482.26,160.85 L482.65,161.83 L483.04,162.97 L483.43,163.76 L483.82,164.44 L484.21,165.05 L484.61,165.59 L485.0,166.06 L485.39,166.47 L485.78,166.81 L486.17,167.09 L486.56,167.3 L486.96,167.43 L487.35,167.49" fill="none" stroke="#000" stroke-width="2.85" stroke-linecap="butt" stroke-linejoin="round"/>
<text x="448.2" y="218.3" text-anchor="middle" fill="#000" style="font-family:'Liberation Sans', sans-serif;font-size:33.7px;" >GlmZ</text>
<path d="M392.5,157.5 L309.6,157.5 L309.6,727" fill="none" stroke="#000" stroke-width="1.5" stroke-linecap="butt" stroke-linejoin="miter"/>
<rect x="300.2" y="726.4" width="18.6" height="3" fill="#000"/>
<path d="M494,160.6 L998.2,160.6 L998.2,1079" fill="none" stroke="#000" stroke-width="1.5" stroke-dasharray="6.1 5.4" stroke-linecap="butt" stroke-linejoin="miter"/>
<path d="M666.6,160.6 L666.6,699" fill="none" stroke="#000" stroke-width="1.5" stroke-dasharray="6.1 5.4" stroke-linecap="butt" stroke-linejoin="miter"/>
<rect x="657.6" y="698.1" width="18.6" height="3" fill="#000"/>
<rect x="988.9000000000001" y="1078.5" width="18.6" height="3" fill="#000"/>
<circle cx="1684.3" cy="132.4" r="9.9" fill="#DEDEDE" stroke="#757575" stroke-width="1.3"/>
<circle cx="1706.1000000000001" cy="132.4" r="9.9" fill="#DEDEDE" stroke="#757575" stroke-width="1.3"/>
<circle cx="1683.7" cy="165.79999999999998" r="9.9" fill="#DEDEDE" stroke="#757575" stroke-width="1.3"/>
<circle cx="1705.5" cy="165.79999999999998" r="9.9" fill="#DEDEDE" stroke="#757575" stroke-width="1.3"/>
<path d="M1651.51,143.92 L1651.9,144.01 L1652.29,144.18 L1652.68,144.41 L1653.07,144.71 L1653.46,145.08 L1653.85,145.52 L1654.24,146.02 L1654.63,146.58 L1655.02,147.22 L1655.41,147.94 L1655.8,148.79 L1656.19,150.0 L1656.58,150.86 L1656.97,151.57 L1657.36,152.21 L1657.75,152.78 L1658.14,153.28 L1658.53,153.71 L1658.92,154.08 L1659.31,154.39 L1659.7,154.62 L1660.09,154.78 L1660.48,154.88 L1660.87,154.9 L1661.26,154.85 L1661.65,154.73 L1662.04,154.53 L1662.43,154.27 L1662.82,153.94 L1663.21,153.54 L1663.6,153.08 L1663.99,152.55 L1664.38,151.96 L1664.77,151.29 L1665.16,150.53 L1665.55,149.54 L1665.94,148.41 L1666.33,147.63 L1666.72,146.95 L1667.11,146.34 L1667.5,145.8 L1667.89,145.33 L1668.28,144.92 L1668.67,144.58 L1669.06,144.31 L1669.45,144.1 L1669.84,143.97 L1670.23,143.9 L1670.62,143.91 L1671.01,144.0 L1671.4,144.15 L1671.8,144.37 L1672.19,144.66 L1672.58,145.02 L1672.97,145.45 L1673.36,145.94 L1673.75,146.49 L1674.14,147.12 L1674.53,147.82 L1674.92,148.64 L1675.31,149.85 L1675.7,150.74 L1676.09,151.47 L1676.48,152.12 L1676.87,152.7 L1677.26,153.21 L1677.65,153.65 L1678.04,154.03 L1678.43,154.35 L1678.82,154.59 L1679.21,154.76 L1679.6,154.87 L1679.99,154.9 L1680.38,154.86 L1680.77,154.75 L1681.16,154.57 L1681.55,154.31 L1681.94,153.99 L1682.33,153.6 L1682.72,153.15 L1683.11,152.63 L1683.5,152.05 L1683.89,151.39 L1684.28,150.65 L1684.67,149.73 L1685.06,148.54 L1685.45,147.74 L1685.84,147.04 L1686.23,146.43 L1686.62,145.88 L1687.01,145.4 L1687.4,144.98 L1687.79,144.63 L1688.18,144.34 L1688.57,144.13 L1688.96,143.98 L1689.35,143.91 L1689.74,143.91 L1690.13,143.98 L1690.52,144.12 L1690.91,144.33 L1691.3,144.62 L1691.69,144.96 L1692.09,145.38 L1692.48,145.86 L1692.87,146.41 L1693.26,147.02 L1693.65,147.71 L1694.04,148.51 L1694.43,149.69 L1694.82,150.62 L1695.21,151.37 L1695.6,152.03 L1695.99,152.61 L1696.38,153.13 L1696.77,153.59 L1697.16,153.98 L1697.55,154.3 L1697.94,154.56 L1698.33,154.74 L1698.72,154.86 L1699.11,154.9 L1699.5,154.87 L1699.89,154.77 L1700.28,154.6 L1700.67,154.36 L1701.06,154.04 L1701.45,153.67 L1701.84,153.22 L1702.23,152.71 L1702.62,152.14 L1703.01,151.5 L1703.4,150.77 L1703.79,149.89 L1704.18,148.68 L1704.57,147.85 L1704.96,147.14 L1705.35,146.51 L1705.74,145.96 L1706.13,145.46 L1706.52,145.04 L1706.91,144.67 L1707.3,144.38 L1707.69,144.15 L1708.08,144.0 L1708.47,143.92 L1708.86,143.9 L1709.25,143.96 L1709.64,144.1 L1710.03,144.3 L1710.42,144.57 L1710.81,144.91 L1711.2,145.31 L1711.59,145.78 L1711.98,146.32 L1712.38,146.92 L1712.77,147.6 L1713.16,148.38 L1713.55,149.49 L1713.94,150.5 L1714.33,151.26 L1714.72,151.93 L1715.11,152.53 L1715.5,153.06 L1715.89,153.53 L1716.28,153.93 L1716.67,154.26 L1717.06,154.52 L1717.45,154.72 L1717.84,154.84 L1718.23,154.9 L1718.62,154.88 L1719.01,154.79 L1719.4,154.63 L1719.79,154.4 L1720.18,154.1 L1720.57,153.73 L1720.96,153.29 L1721.35,152.8 L1721.74,152.23 L1722.13,151.6 L1722.52,150.88 L1722.91,150.04 L1723.3,148.82 L1723.69,147.96 L1724.08,147.24 L1724.47,146.6 L1724.86,146.04 L1725.25,145.53 L1725.64,145.1 L1726.03,144.72 L1726.42,144.42 L1726.81,144.18 L1727.2,144.02 L1727.59,143.92 L1727.98,143.9 L1728.37,143.95 L1728.76,144.07 L1729.15,144.26 L1729.54,144.52 L1729.93,144.85 L1730.32,145.25 L1730.71,145.71 L1731.1,146.24 L1731.49,146.83 L1731.88,147.5 L1732.27,148.25 L1732.67,149.23 L1733.06,150.37 L1733.45,151.16 L1733.84,151.84 L1734.23,152.45 L1734.62,152.99 L1735.01,153.46 L1735.4,153.87 L1735.79,154.21 L1736.18,154.49 L1736.57,154.7 L1736.96,154.83 L1737.35,154.89" fill="none" stroke="#000" stroke-width="2.85" stroke-linecap="butt" stroke-linejoin="round"/>
<circle cx="1671.2" cy="148.2" r="9.9" fill="#B4B4B4" fill-opacity="0.48" stroke="#757575" stroke-width="1.3"/>
<circle cx="1718.6000000000001" cy="149.9" r="9.9" fill="#B4B4B4" fill-opacity="0.48" stroke="#757575" stroke-width="1.3"/>
<text x="1695" y="203.1" text-anchor="middle" fill="#000" style="font-family:'Liberation Sans', sans-serif;font-size:33.7px;" >RyhB</text>
<path d="M1709.4,223.3 L1709.4,729" fill="none" stroke="#000" stroke-width="1.5" stroke-linecap="butt" stroke-linejoin="miter"/>
<rect x="1699.7" y="728.4" width="18.6" height="3" fill="#000"/>
<circle cx="1918.3" cy="134.0" r="9.9" fill="#DEDEDE" stroke="#757575" stroke-width="1.3"/>
<circle cx="1940.1000000000001" cy="134.0" r="9.9" fill="#DEDEDE" stroke="#757575" stroke-width="1.3"/>
<circle cx="1917.7" cy="167.39999999999998" r="9.9" fill="#DEDEDE" stroke="#757575" stroke-width="1.3"/>
<circle cx="1939.5" cy="167.39999999999998" r="9.9" fill="#DEDEDE" stroke="#757575" stroke-width="1.3"/>
<path d="M1885.51,145.52 L1885.9,145.61 L1886.29,145.78 L1886.68,146.01 L1887.07,146.31 L1887.46,146.68 L1887.85,147.12 L1888.24,147.62 L1888.63,148.18 L1889.02,148.82 L1889.41,149.54 L1889.8,150.39 L1890.19,151.6 L1890.58,152.46 L1890.97,153.17 L1891.36,153.81 L1891.75,154.38 L1892.14,154.88 L1892.53,155.31 L1892.92,155.68 L1893.31,155.99 L1893.7,156.22 L1894.09,156.38 L1894.48,156.48 L1894.87,156.5 L1895.26,156.45 L1895.65,156.33 L1896.04,156.13 L1896.43,155.87 L1896.82,155.54 L1897.21,155.14 L1897.6,154.68 L1897.99,154.15 L1898.38,153.56 L1898.77,152.89 L1899.16,152.13 L1899.55,151.14 L1899.94,150.01 L1900.33,149.23 L1900.72,148.55 L1901.11,147.94 L1901.5,147.4 L1901.89,146.93 L1902.28,146.52 L1902.67,146.18 L1903.06,145.91 L1903.45,145.7 L1903.84,145.57 L1904.23,145.5 L1904.62,145.51 L1905.01,145.6 L1905.4,145.75 L1905.8,145.97 L1906.19,146.26 L1906.58,146.62 L1906.97,147.05 L1907.36,147.54 L1907.75,148.09 L1908.14,148.72 L1908.53,149.42 L1908.92,150.24 L1909.31,151.45 L1909.7,152.34 L1910.09,153.07 L1910.48,153.72 L1910.87,154.3 L1911.26,154.81 L1911.65,155.25 L1912.04,155.63 L1912.43,155.95 L1912.82,156.19 L1913.21,156.36 L1913.6,156.47 L1913.99,156.5 L1914.38,156.46 L1914.77,156.35 L1915.16,156.17 L1915.55,155.91 L1915.94,155.59 L1916.33,155.2 L1916.72,154.75 L1917.11,154.23 L1917.5,153.65 L1917.89,152.99 L1918.28,152.25 L1918.67,151.33 L1919.06,150.14 L1919.45,149.34 L1919.84,148.64 L1920.23,148.03 L1920.62,147.48 L1921.01,147.0 L1921.4,146.58 L1921.79,146.23 L1922.18,145.94 L1922.57,145.73 L1922.96,145.58 L1923.35,145.51 L1923.74,145.51 L1924.13,145.58 L1924.52,145.72 L1924.91,145.93 L1925.3,146.22 L1925.69,146.56 L1926.09,146.98 L1926.48,147.46 L1926.87,148.01 L1927.26,148.62 L1927.65,149.31 L1928.04,150.11 L1928.43,151.29 L1928.82,152.22 L1929.21,152.97 L1929.6,153.63 L1929.99,154.21 L1930.38,154.73 L1930.77,155.19 L1931.16,155.58 L1931.55,155.9 L1931.94,156.16 L1932.33,156.34 L1932.72,156.46 L1933.11,156.5 L1933.5,156.47 L1933.89,156.37 L1934.28,156.2 L1934.67,155.96 L1935.06,155.64 L1935.45,155.27 L1935.84,154.82 L1936.23,154.31 L1936.62,153.74 L1937.01,153.1 L1937.4,152.37 L1937.79,151.49 L1938.18,150.28 L1938.57,149.45 L1938.96,148.74 L1939.35,148.11 L1939.74,147.56 L1940.13,147.06 L1940.52,146.64 L1940.91,146.27 L1941.3,145.98 L1941.69,145.75 L1942.08,145.6 L1942.47,145.52 L1942.86,145.5 L1943.25,145.56 L1943.64,145.7 L1944.03,145.9 L1944.42,146.17 L1944.81,146.51 L1945.2,146.91 L1945.59,147.38 L1945.98,147.92 L1946.38,148.52 L1946.77,149.2 L1947.16,149.98 L1947.55,151.09 L1947.94,152.1 L1948.33,152.86 L1948.72,153.53 L1949.11,154.13 L1949.5,154.66 L1949.89,155.13 L1950.28,155.53 L1950.67,155.86 L1951.06,156.12 L1951.45,156.32 L1951.84,156.44 L1952.23,156.5 L1952.62,156.48 L1953.01,156.39 L1953.4,156.23 L1953.79,156.0 L1954.18,155.7 L1954.57,155.33 L1954.96,154.89 L1955.35,154.4 L1955.74,153.83 L1956.13,153.2 L1956.52,152.48 L1956.91,151.64 L1957.3,150.42 L1957.69,149.56 L1958.08,148.84 L1958.47,148.2 L1958.86,147.64 L1959.25,147.13 L1959.64,146.7 L1960.03,146.32 L1960.42,146.02 L1960.81,145.78 L1961.2,145.62 L1961.59,145.52 L1961.98,145.5 L1962.37,145.55 L1962.76,145.67 L1963.15,145.86 L1963.54,146.12 L1963.93,146.45 L1964.32,146.85 L1964.71,147.31 L1965.1,147.84 L1965.49,148.43 L1965.88,149.1 L1966.27,149.85 L1966.67,150.83 L1967.06,151.97 L1967.45,152.76 L1967.84,153.44 L1968.23,154.05 L1968.62,154.59 L1969.01,155.06 L1969.4,155.47 L1969.79,155.81 L1970.18,156.09 L1970.57,156.3 L1970.96,156.43 L1971.35,156.49" fill="none" stroke="#000" stroke-width="2.85" stroke-linecap="butt" stroke-linejoin="round"/>
<circle cx="1905.2" cy="149.79999999999998" r="9.9" fill="#B4B4B4" fill-opacity="0.48" stroke="#757575" stroke-width="1.3"/>
<circle cx="1952.6000000000001" cy="151.5" r="9.9" fill="#B4B4B4" fill-opacity="0.48" stroke="#757575" stroke-width="1.3"/>
<text x="1930.6" y="203.9" text-anchor="middle" fill="#000" style="font-family:'Liberation Sans', sans-serif;font-size:33.7px;" >Esr41</text>
<path d="M1979.8,155.8 L2082.3,155.8 L2082.3,729" fill="none" stroke="#000" stroke-width="1.5" stroke-dasharray="6.1 5.4" stroke-linecap="butt" stroke-linejoin="miter"/>
<rect x="2072.7" y="728.4" width="18.6" height="3" fill="#000"/>
<path d="M2095.81,91.52 L2096.2,91.61 L2096.59,91.78 L2096.99,92.01 L2097.38,92.31 L2097.77,92.68 L2098.17,93.12 L2098.56,93.62 L2098.95,94.18 L2099.35,94.82 L2099.74,95.54 L2100.13,96.39 L2100.53,97.6 L2100.92,98.46 L2101.31,99.17 L2101.71,99.81 L2102.1,100.38 L2102.49,100.88 L2102.89,101.31 L2103.28,101.68 L2103.67,101.99 L2104.07,102.22 L2104.46,102.38 L2104.85,102.48 L2105.25,102.5 L2105.64,102.45 L2106.03,102.33 L2106.43,102.13 L2106.82,101.87 L2107.22,101.54 L2107.61,101.14 L2108.0,100.68 L2108.4,100.15 L2108.79,99.56 L2109.18,98.89 L2109.58,98.13 L2109.97,97.14 L2110.36,96.01 L2110.76,95.23 L2111.15,94.55 L2111.54,93.94 L2111.94,93.4 L2112.33,92.93 L2112.72,92.52 L2113.12,92.18 L2113.51,91.91 L2113.9,91.7 L2114.3,91.57 L2114.69,91.5 L2115.08,91.51 L2115.48,91.6 L2115.87,91.75 L2116.26,91.97 L2116.66,92.26 L2117.05,92.62 L2117.44,93.05 L2117.84,93.54 L2118.23,94.09 L2118.62,94.72 L2119.02,95.42 L2119.41,96.24 L2119.8,97.45 L2120.2,98.34 L2120.59,99.07 L2120.98,99.72 L2121.38,100.3 L2121.77,100.81 L2122.16,101.25 L2122.56,101.63 L2122.95,101.95 L2123.34,102.19 L2123.74,102.36 L2124.13,102.47 L2124.52,102.5 L2124.92,102.46 L2125.31,102.35 L2125.7,102.17 L2126.1,101.91 L2126.49,101.59 L2126.88,101.2 L2127.28,100.75 L2127.67,100.23 L2128.06,99.65 L2128.46,98.99 L2128.85,98.25 L2129.24,97.33 L2129.64,96.14 L2130.03,95.34 L2130.42,94.64 L2130.82,94.03 L2131.21,93.48 L2131.6,93.0 L2132.0,92.58 L2132.39,92.23 L2132.78,91.94 L2133.18,91.73 L2133.57,91.58 L2133.96,91.51 L2134.36,91.51 L2134.75,91.58 L2135.14,91.72 L2135.54,91.93 L2135.93,92.22 L2136.32,92.56 L2136.72,92.98 L2137.11,93.46 L2137.5,94.01 L2137.9,94.62 L2138.29,95.31 L2138.68,96.11 L2139.08,97.29 L2139.47,98.22 L2139.86,98.97 L2140.26,99.63 L2140.65,100.21 L2141.04,100.73 L2141.44,101.19 L2141.83,101.58 L2142.22,101.9 L2142.62,102.16 L2143.01,102.34 L2143.4,102.46 L2143.8,102.5 L2144.19,102.47 L2144.58,102.37 L2144.98,102.2 L2145.37,101.96 L2145.76,101.64 L2146.16,101.27 L2146.55,100.82 L2146.94,100.31 L2147.34,99.74 L2147.73,99.1 L2148.12,98.37 L2148.52,97.49 L2148.91,96.28 L2149.3,95.45 L2149.7,94.74 L2150.09,94.11 L2150.48,93.56 L2150.88,93.06 L2151.27,92.64 L2151.66,92.27 L2152.06,91.98 L2152.45,91.75 L2152.84,91.6 L2153.24,91.52 L2153.63,91.5 L2154.02,91.56 L2154.42,91.7 L2154.81,91.9 L2155.2,92.17 L2155.6,92.51 L2155.99,92.91 L2156.38,93.38 L2156.78,93.92 L2157.17,94.52 L2157.56,95.2 L2157.96,95.98 L2158.35,97.09 L2158.74,98.1 L2159.14,98.86 L2159.53,99.53 L2159.92,100.13 L2160.32,100.66 L2160.71,101.13 L2161.1,101.53 L2161.5,101.86 L2161.89,102.12 L2162.28,102.32 L2162.68,102.44 L2163.07,102.5 L2163.47,102.48 L2163.86,102.39 L2164.25,102.23 L2164.65,102.0 L2165.04,101.7 L2165.43,101.33 L2165.83,100.89 L2166.22,100.4 L2166.61,99.83 L2167.01,99.2 L2167.4,98.48 L2167.79,97.64 L2168.19,96.42 L2168.58,95.56 L2168.97,94.84 L2169.37,94.2 L2169.76,93.64 L2170.15,93.13 L2170.55,92.7 L2170.94,92.32 L2171.33,92.02 L2171.73,91.78 L2172.12,91.62 L2172.51,91.52 L2172.91,91.5 L2173.3,91.55 L2173.69,91.67 L2174.09,91.86 L2174.48,92.12 L2174.87,92.45 L2175.27,92.85 L2175.66,93.31 L2176.05,93.84 L2176.45,94.43 L2176.84,95.1 L2177.23,95.85 L2177.63,96.83 L2178.02,97.97 L2178.41,98.76 L2178.81,99.44 L2179.2,100.05 L2179.59,100.59 L2179.99,101.06 L2180.38,101.47 L2180.77,101.81 L2181.17,102.09 L2181.56,102.3 L2181.95,102.43 L2182.35,102.49" fill="none" stroke="#000" stroke-width="2.85" stroke-linecap="butt" stroke-linejoin="round"/>
<path d="M2108.9,567 L2108.9,150" fill="none" stroke="#000" stroke-width="1.5" stroke-linecap="butt" stroke-linejoin="miter"/>
<polygon points="2108.8,134.8 2098.15,153.3 2119.4500000000003,153.3" fill="#000"/>
<path d="M2153.6,130.5 L2153.6,752.8 L2104,752.8" fill="none" stroke="#000" stroke-width="1.5" stroke-linecap="butt" stroke-linejoin="miter"/>
<rect x="2102.1" y="743.5" width="3" height="18.6" fill="#000"/>
<path d="M2087.8,629.9 L2088.25,630.15 L2088.7,630.86 L2089.16,631.98 L2089.61,633.41 L2090.06,635.02 L2090.51,636.66 L2090.97,638.18 L2091.42,639.46 L2091.87,640.38 L2092.32,640.85 L2092.77,640.83 L2093.23,640.33 L2093.68,639.38 L2094.13,638.08 L2094.58,636.54 L2095.04,634.9 L2095.49,633.3 L2095.94,631.89 L2096.39,630.8 L2096.84,630.11 L2097.3,629.9 L2097.75,630.18 L2098.2,630.93 L2098.65,632.07 L2099.11,633.52 L2099.56,635.13 L2100.01,636.77 L2100.46,638.28 L2100.91,639.54 L2101.37,640.42 L2101.82,640.86 L2102.27,640.81 L2102.72,640.27 L2103.18,639.3 L2103.63,637.98 L2104.08,636.43 L2104.53,634.79 L2104.98,633.2 L2105.44,631.81 L2105.89,630.74 L2106.34,630.08 L2106.79,629.9 L2107.25,630.22 L2107.7,631.0 L2108.15,632.17 L2108.6,633.63 L2109.05,635.25 L2109.51,636.88 L2109.96,638.38 L2110.41,639.61 L2110.86,640.47 L2111.32,640.87 L2111.77,640.79 L2112.22,640.22 L2112.67,639.22 L2113.12,637.88 L2113.58,636.32 L2114.03,634.67 L2114.48,633.09 L2114.93,631.72 L2115.39,630.68 L2115.84,630.05 L2116.29,629.91 L2116.74,630.26 L2117.19,631.07 L2117.65,632.26 L2118.1,633.74 L2118.55,635.36 L2119.0,636.99 L2119.46,638.48 L2119.91,639.69 L2120.36,640.51 L2120.81,640.88 L2121.26,640.76 L2121.72,640.16 L2122.17,639.14 L2122.62,637.78 L2123.07,636.2 L2123.53,634.56 L2123.98,632.99 L2124.43,631.63 L2124.88,630.62 L2125.33,630.03 L2125.79,629.92 L2126.24,630.3 L2126.69,631.14 L2127.14,632.36 L2127.6,633.85 L2128.05,635.48 L2128.5,637.1" fill="none" stroke="#000" stroke-width="1.5"/>
<polygon points="2144,639.6 2125.8,629.2 2125.8,650.0" fill="#000"/>
<circle cx="153.2" cy="1104.7" r="9.9" fill="#DEDEDE" stroke="#757575" stroke-width="1.3"/>
<circle cx="175.0" cy="1104.7" r="9.9" fill="#DEDEDE" stroke="#757575" stroke-width="1.3"/>
<circle cx="152.6" cy="1138.1000000000001" r="9.9" fill="#DEDEDE" stroke="#757575" stroke-width="1.3"/>
<circle cx="174.4" cy="1138.1000000000001" r="9.9" fill="#DEDEDE" stroke="#757575" stroke-width="1.3"/>
<path d="M120.41,1116.22 L120.8,1116.31 L121.19,1116.48 L121.58,1116.71 L121.97,1117.01 L122.36,1117.38 L122.75,1117.82 L123.14,1118.32 L123.53,1118.88 L123.92,1119.52 L124.31,1120.24 L124.7,1121.09 L125.09,1122.3 L125.48,1123.16 L125.87,1123.87 L126.26,1124.51 L126.65,1125.08 L127.04,1125.58 L127.43,1126.01 L127.82,1126.38 L128.21,1126.69 L128.6,1126.92 L128.99,1127.08 L129.38,1127.18 L129.77,1127.2 L130.16,1127.15 L130.55,1127.03 L130.94,1126.83 L131.33,1126.57 L131.72,1126.24 L132.11,1125.84 L132.5,1125.38 L132.89,1124.85 L133.28,1124.26 L133.67,1123.59 L134.06,1122.83 L134.45,1121.84 L134.84,1120.71 L135.23,1119.93 L135.62,1119.25 L136.01,1118.64 L136.4,1118.1 L136.79,1117.63 L137.18,1117.22 L137.57,1116.88 L137.96,1116.61 L138.35,1116.4 L138.74,1116.27 L139.13,1116.2 L139.52,1116.21 L139.91,1116.3 L140.3,1116.45 L140.7,1116.67 L141.09,1116.96 L141.48,1117.32 L141.87,1117.75 L142.26,1118.24 L142.65,1118.79 L143.04,1119.42 L143.43,1120.12 L143.82,1120.94 L144.21,1122.15 L144.6,1123.04 L144.99,1123.77 L145.38,1124.42 L145.77,1125.0 L146.16,1125.51 L146.55,1125.95 L146.94,1126.33 L147.33,1126.65 L147.72,1126.89 L148.11,1127.06 L148.5,1127.17 L148.89,1127.2 L149.28,1127.16 L149.67,1127.05 L150.06,1126.87 L150.45,1126.61 L150.84,1126.29 L151.23,1125.9 L151.62,1125.45 L152.01,1124.93 L152.4,1124.35 L152.79,1123.69 L153.18,1122.95 L153.57,1122.03 L153.96,1120.84 L154.35,1120.04 L154.74,1119.34 L155.13,1118.73 L155.52,1118.18 L155.91,1117.7 L156.3,1117.28 L156.69,1116.93 L157.08,1116.64 L157.47,1116.43 L157.86,1116.28 L158.25,1116.21 L158.64,1116.21 L159.03,1116.28 L159.42,1116.42 L159.81,1116.63 L160.2,1116.92 L160.59,1117.26 L160.99,1117.68 L161.38,1118.16 L161.77,1118.71 L162.16,1119.32 L162.55,1120.01 L162.94,1120.81 L163.33,1121.99 L163.72,1122.92 L164.11,1123.67 L164.5,1124.33 L164.89,1124.91 L165.28,1125.43 L165.67,1125.89 L166.06,1126.28 L166.45,1126.6 L166.84,1126.86 L167.23,1127.04 L167.62,1127.16 L168.01,1127.2 L168.4,1127.17 L168.79,1127.07 L169.18,1126.9 L169.57,1126.66 L169.96,1126.34 L170.35,1125.97 L170.74,1125.52 L171.13,1125.01 L171.52,1124.44 L171.91,1123.8 L172.3,1123.07 L172.69,1122.19 L173.08,1120.98 L173.47,1120.15 L173.86,1119.44 L174.25,1118.81 L174.64,1118.26 L175.03,1117.76 L175.42,1117.34 L175.81,1116.97 L176.2,1116.68 L176.59,1116.45 L176.98,1116.3 L177.37,1116.22 L177.76,1116.2 L178.15,1116.26 L178.54,1116.4 L178.93,1116.6 L179.32,1116.87 L179.71,1117.21 L180.1,1117.61 L180.49,1118.08 L180.88,1118.62 L181.28,1119.22 L181.67,1119.9 L182.06,1120.68 L182.45,1121.79 L182.84,1122.8 L183.23,1123.56 L183.62,1124.23 L184.01,1124.83 L184.4,1125.36 L184.79,1125.83 L185.18,1126.23 L185.57,1126.56 L185.96,1126.82 L186.35,1127.02 L186.74,1127.14 L187.13,1127.2 L187.52,1127.18 L187.91,1127.09 L188.3,1126.93 L188.69,1126.7 L189.08,1126.4 L189.47,1126.03 L189.86,1125.59 L190.25,1125.1 L190.64,1124.53 L191.03,1123.9 L191.42,1123.18 L191.81,1122.34 L192.2,1121.12 L192.59,1120.26 L192.98,1119.54 L193.37,1118.9 L193.76,1118.34 L194.15,1117.83 L194.54,1117.4 L194.93,1117.02 L195.32,1116.72 L195.71,1116.48 L196.1,1116.32 L196.49,1116.22 L196.88,1116.2 L197.27,1116.25 L197.66,1116.37 L198.05,1116.56 L198.44,1116.82 L198.83,1117.15 L199.22,1117.55 L199.61,1118.01 L200.0,1118.54 L200.39,1119.13 L200.78,1119.8 L201.17,1120.55 L201.57,1121.53 L201.96,1122.67 L202.35,1123.46 L202.74,1124.14 L203.13,1124.75 L203.52,1125.29 L203.91,1125.76 L204.3,1126.17 L204.69,1126.51 L205.08,1126.79 L205.47,1127.0 L205.86,1127.13 L206.25,1127.19" fill="none" stroke="#000" stroke-width="2.85" stroke-linecap="butt" stroke-linejoin="round"/>
<circle cx="140.1" cy="1120.5" r="9.9" fill="#B4B4B4" fill-opacity="0.48" stroke="#757575" stroke-width="1.3"/>
<circle cx="187.5" cy="1122.2" r="9.9" fill="#B4B4B4" fill-opacity="0.48" stroke="#757575" stroke-width="1.3"/>
<text x="176.4" y="1175.3" text-anchor="middle" fill="#000" style="font-family:'Liberation Sans', sans-serif;font-size:33.7px;" >EcOnc27/sRNA103</text>
<path d="M216.3,1121.2 L309.6,1121.2 L309.6,829" fill="none" stroke="#000" stroke-width="1.5" stroke-dasharray="6.1 5.4" stroke-linecap="butt" stroke-linejoin="miter"/>
<polygon points="309.6,812 299.20000000000005,829.2 320.0,829.2" fill="#231F20"/>
<circle cx="153.2" cy="1190.2" r="9.9" fill="#DEDEDE" stroke="#757575" stroke-width="1.3"/>
<circle cx="175.0" cy="1190.2" r="9.9" fill="#DEDEDE" stroke="#757575" stroke-width="1.3"/>
<circle cx="152.6" cy="1223.6000000000001" r="9.9" fill="#DEDEDE" stroke="#757575" stroke-width="1.3"/>
<circle cx="174.4" cy="1223.6000000000001" r="9.9" fill="#DEDEDE" stroke="#757575" stroke-width="1.3"/>
<path d="M120.41,1201.72 L120.8,1201.81 L121.19,1201.98 L121.58,1202.21 L121.97,1202.51 L122.36,1202.88 L122.75,1203.32 L123.14,1203.82 L123.53,1204.38 L123.92,1205.02 L124.31,1205.74 L124.7,1206.59 L125.09,1207.8 L125.48,1208.66 L125.87,1209.37 L126.26,1210.01 L126.65,1210.58 L127.04,1211.08 L127.43,1211.51 L127.82,1211.88 L128.21,1212.19 L128.6,1212.42 L128.99,1212.58 L129.38,1212.68 L129.77,1212.7 L130.16,1212.65 L130.55,1212.53 L130.94,1212.33 L131.33,1212.07 L131.72,1211.74 L132.11,1211.34 L132.5,1210.88 L132.89,1210.35 L133.28,1209.76 L133.67,1209.09 L134.06,1208.33 L134.45,1207.34 L134.84,1206.21 L135.23,1205.43 L135.62,1204.75 L136.01,1204.14 L136.4,1203.6 L136.79,1203.13 L137.18,1202.72 L137.57,1202.38 L137.96,1202.11 L138.35,1201.9 L138.74,1201.77 L139.13,1201.7 L139.52,1201.71 L139.91,1201.8 L140.3,1201.95 L140.7,1202.17 L141.09,1202.46 L141.48,1202.82 L141.87,1203.25 L142.26,1203.74 L142.65,1204.29 L143.04,1204.92 L143.43,1205.62 L143.82,1206.44 L144.21,1207.65 L144.6,1208.54 L144.99,1209.27 L145.38,1209.92 L145.77,1210.5 L146.16,1211.01 L146.55,1211.45 L146.94,1211.83 L147.33,1212.15 L147.72,1212.39 L148.11,1212.56 L148.5,1212.67 L148.89,1212.7 L149.28,1212.66 L149.67,1212.55 L150.06,1212.37 L150.45,1212.11 L150.84,1211.79 L151.23,1211.4 L151.62,1210.95 L152.01,1210.43 L152.4,1209.85 L152.79,1209.19 L153.18,1208.45 L153.57,1207.53 L153.96,1206.34 L154.35,1205.54 L154.74,1204.84 L155.13,1204.23 L155.52,1203.68 L155.91,1203.2 L156.3,1202.78 L156.69,1202.43 L157.08,1202.14 L157.47,1201.93 L157.86,1201.78 L158.25,1201.71 L158.64,1201.71 L159.03,1201.78 L159.42,1201.92 L159.81,1202.13 L160.2,1202.42 L160.59,1202.76 L160.99,1203.18 L161.38,1203.66 L161.77,1204.21 L162.16,1204.82 L162.55,1205.51 L162.94,1206.31 L163.33,1207.49 L163.72,1208.42 L164.11,1209.17 L164.5,1209.83 L164.89,1210.41 L165.28,1210.93 L165.67,1211.39 L166.06,1211.78 L166.45,1212.1 L166.84,1212.36 L167.23,1212.54 L167.62,1212.66 L168.01,1212.7 L168.4,1212.67 L168.79,1212.57 L169.18,1212.4 L169.57,1212.16 L169.96,1211.84 L170.35,1211.47 L170.74,1211.02 L171.13,1210.51 L171.52,1209.94 L171.91,1209.3 L172.3,1208.57 L172.69,1207.69 L173.08,1206.48 L173.47,1205.65 L173.86,1204.94 L174.25,1204.31 L174.64,1203.76 L175.03,1203.26 L175.42,1202.84 L175.81,1202.47 L176.2,1202.18 L176.59,1201.95 L176.98,1201.8 L177.37,1201.72 L177.76,1201.7 L178.15,1201.76 L178.54,1201.9 L178.93,1202.1 L179.32,1202.37 L179.71,1202.71 L180.1,1203.11 L180.49,1203.58 L180.88,1204.12 L181.28,1204.72 L181.67,1205.4 L182.06,1206.18 L182.45,1207.29 L182.84,1208.3 L183.23,1209.06 L183.62,1209.73 L184.01,1210.33 L184.4,1210.86 L184.79,1211.33 L185.18,1211.73 L185.57,1212.06 L185.96,1212.32 L186.35,1212.52 L186.74,1212.64 L187.13,1212.7 L187.52,1212.68 L187.91,1212.59 L188.3,1212.43 L188.69,1212.2 L189.08,1211.9 L189.47,1211.53 L189.86,1211.09 L190.25,1210.6 L190.64,1210.03 L191.03,1209.4 L191.42,1208.68 L191.81,1207.84 L192.2,1206.62 L192.59,1205.76 L192.98,1205.04 L193.37,1204.4 L193.76,1203.84 L194.15,1203.33 L194.54,1202.9 L194.93,1202.52 L195.32,1202.22 L195.71,1201.98 L196.1,1201.82 L196.49,1201.72 L196.88,1201.7 L197.27,1201.75 L197.66,1201.87 L198.05,1202.06 L198.44,1202.32 L198.83,1202.65 L199.22,1203.05 L199.61,1203.51 L200.0,1204.04 L200.39,1204.63 L200.78,1205.3 L201.17,1206.05 L201.57,1207.03 L201.96,1208.17 L202.35,1208.96 L202.74,1209.64 L203.13,1210.25 L203.52,1210.79 L203.91,1211.26 L204.3,1211.67 L204.69,1212.01 L205.08,1212.29 L205.47,1212.5 L205.86,1212.63 L206.25,1212.69" fill="none" stroke="#000" stroke-width="2.85" stroke-linecap="butt" stroke-linejoin="round"/>
<circle cx="140.1" cy="1206.0" r="9.9" fill="#B4B4B4" fill-opacity="0.48" stroke="#757575" stroke-width="1.3"/>
<circle cx="187.5" cy="1207.7" r="9.9" fill="#B4B4B4" fill-opacity="0.48" stroke="#757575" stroke-width="1.3"/>
<text x="165" y="1260.6" text-anchor="middle" fill="#000" style="font-family:'Liberation Sans', sans-serif;font-size:33.7px;" >Spot42</text>
<path d="M215,1207.3 L367.6,1207.3 L367.6,813" fill="none" stroke="#000" stroke-width="1.5" stroke-linecap="butt" stroke-linejoin="miter"/>
<rect x="358.3" y="811.1" width="18.6" height="3" fill="#000"/>
<ellipse cx="711.6" cy="1206.8" rx="59.5" ry="35.4" fill="#00BFB2" stroke="#000" stroke-width="1.5"/>
<text x="711" y="1219.8" text-anchor="middle" fill="#000" style="font-family:'Liberation Sans', sans-serif;font-size:33.7px;" >CsrA</text>
<path d="M645,1209.8 L395.6,1209.8 L395.6,826" fill="none" stroke="#000" stroke-width="1.5" stroke-linecap="butt" stroke-linejoin="miter"/>
<polygon points="395.6,809.5 385.0,827.3 406.20000000000005,827.3" fill="#000"/>
<path d="M777,1209.4 L1709.8,1209.4 L1709.8,815" fill="none" stroke="#000" stroke-width="1.5" stroke-linecap="butt" stroke-linejoin="miter"/>
<path d="M718.3,827 L718.3,1152" fill="none" stroke="#000" stroke-width="1.5" stroke-linecap="butt" stroke-linejoin="miter"/>
<rect x="709.7" y="1150.9" width="18.6" height="3" fill="#000"/>
<path d="M747.2,1160.5 L747.2,1124.2 L926,1124.2" fill="none" stroke="#000" stroke-width="1.5" stroke-linecap="butt" stroke-linejoin="miter"/>
<rect x="925.5" y="1115.1000000000001" width="3" height="18.6" fill="#000"/>
<ellipse cx="1003.4" cy="1130.4" rx="59.5" ry="35.5" fill="#A7A9AC" stroke="#000" stroke-width="1.5"/>
<text x="1002.3" y="1143.2" text-anchor="middle" fill="#000" style="font-family:'Liberation Sans', sans-serif;font-size:33.7px;" >NleA</text>
<circle cx="1431.1999999999998" cy="1118.8999999999999" r="9.9" fill="#DEDEDE" stroke="#757575" stroke-width="1.3"/>
<circle cx="1453.0" cy="1118.8999999999999" r="9.9" fill="#DEDEDE" stroke="#757575" stroke-width="1.3"/>
<circle cx="1430.6" cy="1152.3" r="9.9" fill="#DEDEDE" stroke="#757575" stroke-width="1.3"/>
<circle cx="1452.3999999999999" cy="1152.3" r="9.9" fill="#DEDEDE" stroke="#757575" stroke-width="1.3"/>
<path d="M1398.41,1130.42 L1398.8,1130.51 L1399.19,1130.68 L1399.58,1130.91 L1399.97,1131.21 L1400.36,1131.58 L1400.75,1132.02 L1401.14,1132.52 L1401.53,1133.08 L1401.92,1133.72 L1402.31,1134.44 L1402.7,1135.29 L1403.09,1136.5 L1403.48,1137.36 L1403.87,1138.07 L1404.26,1138.71 L1404.65,1139.28 L1405.04,1139.78 L1405.43,1140.21 L1405.82,1140.58 L1406.21,1140.89 L1406.6,1141.12 L1406.99,1141.28 L1407.38,1141.38 L1407.77,1141.4 L1408.16,1141.35 L1408.55,1141.23 L1408.94,1141.03 L1409.33,1140.77 L1409.72,1140.44 L1410.11,1140.04 L1410.5,1139.58 L1410.89,1139.05 L1411.28,1138.46 L1411.67,1137.79 L1412.06,1137.03 L1412.45,1136.04 L1412.84,1134.91 L1413.23,1134.13 L1413.62,1133.45 L1414.01,1132.84 L1414.4,1132.3 L1414.79,1131.83 L1415.18,1131.42 L1415.57,1131.08 L1415.96,1130.81 L1416.35,1130.6 L1416.74,1130.47 L1417.13,1130.4 L1417.52,1130.41 L1417.91,1130.5 L1418.3,1130.65 L1418.7,1130.87 L1419.09,1131.16 L1419.48,1131.52 L1419.87,1131.95 L1420.26,1132.44 L1420.65,1132.99 L1421.04,1133.62 L1421.43,1134.32 L1421.82,1135.14 L1422.21,1136.35 L1422.6,1137.24 L1422.99,1137.97 L1423.38,1138.62 L1423.77,1139.2 L1424.16,1139.71 L1424.55,1140.15 L1424.94,1140.53 L1425.33,1140.85 L1425.72,1141.09 L1426.11,1141.26 L1426.5,1141.37 L1426.89,1141.4 L1427.28,1141.36 L1427.67,1141.25 L1428.06,1141.07 L1428.45,1140.81 L1428.84,1140.49 L1429.23,1140.1 L1429.62,1139.65 L1430.01,1139.13 L1430.4,1138.55 L1430.79,1137.89 L1431.18,1137.15 L1431.57,1136.23 L1431.96,1135.04 L1432.35,1134.24 L1432.74,1133.54 L1433.13,1132.93 L1433.52,1132.38 L1433.91,1131.9 L1434.3,1131.48 L1434.69,1131.13 L1435.08,1130.84 L1435.47,1130.63 L1435.86,1130.48 L1436.25,1130.41 L1436.64,1130.41 L1437.03,1130.48 L1437.42,1130.62 L1437.81,1130.83 L1438.2,1131.12 L1438.59,1131.46 L1438.99,1131.88 L1439.38,1132.36 L1439.77,1132.91 L1440.16,1133.52 L1440.55,1134.21 L1440.94,1135.01 L1441.33,1136.19 L1441.72,1137.12 L1442.11,1137.87 L1442.5,1138.53 L1442.89,1139.11 L1443.28,1139.63 L1443.67,1140.09 L1444.06,1140.48 L1444.45,1140.8 L1444.84,1141.06 L1445.23,1141.24 L1445.62,1141.36 L1446.01,1141.4 L1446.4,1141.37 L1446.79,1141.27 L1447.18,1141.1 L1447.57,1140.86 L1447.96,1140.54 L1448.35,1140.17 L1448.74,1139.72 L1449.13,1139.21 L1449.52,1138.64 L1449.91,1138.0 L1450.3,1137.27 L1450.69,1136.39 L1451.08,1135.18 L1451.47,1134.35 L1451.86,1133.64 L1452.25,1133.01 L1452.64,1132.46 L1453.03,1131.96 L1453.42,1131.54 L1453.81,1131.17 L1454.2,1130.88 L1454.59,1130.65 L1454.98,1130.5 L1455.37,1130.42 L1455.76,1130.4 L1456.15,1130.46 L1456.54,1130.6 L1456.93,1130.8 L1457.32,1131.07 L1457.71,1131.41 L1458.1,1131.81 L1458.49,1132.28 L1458.88,1132.82 L1459.28,1133.42 L1459.67,1134.1 L1460.06,1134.88 L1460.45,1135.99 L1460.84,1137.0 L1461.23,1137.76 L1461.62,1138.43 L1462.01,1139.03 L1462.4,1139.56 L1462.79,1140.03 L1463.18,1140.43 L1463.57,1140.76 L1463.96,1141.02 L1464.35,1141.22 L1464.74,1141.34 L1465.13,1141.4 L1465.52,1141.38 L1465.91,1141.29 L1466.3,1141.13 L1466.69,1140.9 L1467.08,1140.6 L1467.47,1140.23 L1467.86,1139.79 L1468.25,1139.3 L1468.64,1138.73 L1469.03,1138.1 L1469.42,1137.38 L1469.81,1136.54 L1470.2,1135.32 L1470.59,1134.46 L1470.98,1133.74 L1471.37,1133.1 L1471.76,1132.54 L1472.15,1132.03 L1472.54,1131.6 L1472.93,1131.22 L1473.32,1130.92 L1473.71,1130.68 L1474.1,1130.52 L1474.49,1130.42 L1474.88,1130.4 L1475.27,1130.45 L1475.66,1130.57 L1476.05,1130.76 L1476.44,1131.02 L1476.83,1131.35 L1477.22,1131.75 L1477.61,1132.21 L1478.0,1132.74 L1478.39,1133.33 L1478.78,1134.0 L1479.17,1134.75 L1479.57,1135.73 L1479.96,1136.87 L1480.35,1137.66 L1480.74,1138.34 L1481.13,1138.95 L1481.52,1139.49 L1481.91,1139.96 L1482.3,1140.37 L1482.69,1140.71 L1483.08,1140.99 L1483.47,1141.2 L1483.86,1141.33 L1484.25,1141.39" fill="none" stroke="#000" stroke-width="2.85" stroke-linecap="butt" stroke-linejoin="round"/>
<circle cx="1418.1" cy="1134.6999999999998" r="9.9" fill="#B4B4B4" fill-opacity="0.48" stroke="#757575" stroke-width="1.3"/>
<circle cx="1465.5" cy="1136.3999999999999" r="9.9" fill="#B4B4B4" fill-opacity="0.48" stroke="#757575" stroke-width="1.3"/>
<text x="1444.4" y="1189.2" text-anchor="middle" fill="#000" style="font-family:'Liberation Sans', sans-serif;font-size:33.7px;" >McaS</text>
<path d="M1491,1141 L1587.8,1141 L1690.3,820" fill="none" stroke="#000" stroke-width="1.5" stroke-dasharray="6.1 5.4" stroke-linecap="butt" stroke-linejoin="miter"/>
<path d="M1681.5,813.8 L1699,820.2" fill="none" stroke="#000" stroke-width="3" stroke-linecap="butt" stroke-linejoin="miter"/>
<rect x="1700.5" y="813" width="36.3" height="3" fill="#000"/>
<path d="M1727.3,815 L1727.3,1209.8 L1827.3,1209.8" fill="none" stroke="#000" stroke-width="1.5" stroke-linecap="butt" stroke-linejoin="miter"/>
<circle cx="1866.1" cy="1190.3" r="9.9" fill="#DEDEDE" stroke="#757575" stroke-width="1.3"/>
<circle cx="1887.9" cy="1190.3" r="9.9" fill="#DEDEDE" stroke="#757575" stroke-width="1.3"/>
<circle cx="1865.5" cy="1223.7" r="9.9" fill="#DEDEDE" stroke="#757575" stroke-width="1.3"/>
<circle cx="1887.3" cy="1223.7" r="9.9" fill="#DEDEDE" stroke="#757575" stroke-width="1.3"/>
<path d="M1833.31,1201.82 L1833.7,1201.91 L1834.09,1202.08 L1834.48,1202.31 L1834.87,1202.61 L1835.26,1202.98 L1835.65,1203.42 L1836.04,1203.92 L1836.43,1204.48 L1836.82,1205.12 L1837.21,1205.84 L1837.6,1206.69 L1837.99,1207.9 L1838.38,1208.76 L1838.77,1209.47 L1839.16,1210.11 L1839.55,1210.68 L1839.94,1211.18 L1840.33,1211.61 L1840.72,1211.98 L1841.11,1212.29 L1841.5,1212.52 L1841.89,1212.68 L1842.28,1212.78 L1842.67,1212.8 L1843.06,1212.75 L1843.45,1212.63 L1843.84,1212.43 L1844.23,1212.17 L1844.62,1211.84 L1845.01,1211.44 L1845.4,1210.98 L1845.79,1210.45 L1846.18,1209.86 L1846.57,1209.19 L1846.96,1208.43 L1847.35,1207.44 L1847.74,1206.31 L1848.13,1205.53 L1848.52,1204.85 L1848.91,1204.24 L1849.3,1203.7 L1849.69,1203.23 L1850.08,1202.82 L1850.47,1202.48 L1850.86,1202.21 L1851.25,1202.0 L1851.64,1201.87 L1852.03,1201.8 L1852.42,1201.81 L1852.81,1201.9 L1853.2,1202.05 L1853.6,1202.27 L1853.99,1202.56 L1854.38,1202.92 L1854.77,1203.35 L1855.16,1203.84 L1855.55,1204.39 L1855.94,1205.02 L1856.33,1205.72 L1856.72,1206.54 L1857.11,1207.75 L1857.5,1208.64 L1857.89,1209.37 L1858.28,1210.02 L1858.67,1210.6 L1859.06,1211.11 L1859.45,1211.55 L1859.84,1211.93 L1860.23,1212.25 L1860.62,1212.49 L1861.01,1212.66 L1861.4,1212.77 L1861.79,1212.8 L1862.18,1212.76 L1862.57,1212.65 L1862.96,1212.47 L1863.35,1212.21 L1863.74,1211.89 L1864.13,1211.5 L1864.52,1211.05 L1864.91,1210.53 L1865.3,1209.95 L1865.69,1209.29 L1866.08,1208.55 L1866.47,1207.63 L1866.86,1206.44 L1867.25,1205.64 L1867.64,1204.94 L1868.03,1204.33 L1868.42,1203.78 L1868.81,1203.3 L1869.2,1202.88 L1869.59,1202.53 L1869.98,1202.24 L1870.37,1202.03 L1870.76,1201.88 L1871.15,1201.81 L1871.54,1201.81 L1871.93,1201.88 L1872.32,1202.02 L1872.71,1202.23 L1873.1,1202.52 L1873.49,1202.86 L1873.89,1203.28 L1874.28,1203.76 L1874.67,1204.31 L1875.06,1204.92 L1875.45,1205.61 L1875.84,1206.41 L1876.23,1207.59 L1876.62,1208.52 L1877.01,1209.27 L1877.4,1209.93 L1877.79,1210.51 L1878.18,1211.03 L1878.57,1211.49 L1878.96,1211.88 L1879.35,1212.2 L1879.74,1212.46 L1880.13,1212.64 L1880.52,1212.76 L1880.91,1212.8 L1881.3,1212.77 L1881.69,1212.67 L1882.08,1212.5 L1882.47,1212.26 L1882.86,1211.94 L1883.25,1211.57 L1883.64,1211.12 L1884.03,1210.61 L1884.42,1210.04 L1884.81,1209.4 L1885.2,1208.67 L1885.59,1207.79 L1885.98,1206.58 L1886.37,1205.75 L1886.76,1205.04 L1887.15,1204.41 L1887.54,1203.86 L1887.93,1203.36 L1888.32,1202.94 L1888.71,1202.57 L1889.1,1202.28 L1889.49,1202.05 L1889.88,1201.9 L1890.27,1201.82 L1890.66,1201.8 L1891.05,1201.86 L1891.44,1202.0 L1891.83,1202.2 L1892.22,1202.47 L1892.61,1202.81 L1893.0,1203.21 L1893.39,1203.68 L1893.78,1204.22 L1894.18,1204.82 L1894.57,1205.5 L1894.96,1206.28 L1895.35,1207.39 L1895.74,1208.4 L1896.13,1209.16 L1896.52,1209.83 L1896.91,1210.43 L1897.3,1210.96 L1897.69,1211.43 L1898.08,1211.83 L1898.47,1212.16 L1898.86,1212.42 L1899.25,1212.62 L1899.64,1212.74 L1900.03,1212.8 L1900.42,1212.78 L1900.81,1212.69 L1901.2,1212.53 L1901.59,1212.3 L1901.98,1212.0 L1902.37,1211.63 L1902.76,1211.19 L1903.15,1210.7 L1903.54,1210.13 L1903.93,1209.5 L1904.32,1208.78 L1904.71,1207.94 L1905.1,1206.72 L1905.49,1205.86 L1905.88,1205.14 L1906.27,1204.5 L1906.66,1203.94 L1907.05,1203.43 L1907.44,1203.0 L1907.83,1202.62 L1908.22,1202.32 L1908.61,1202.08 L1909.0,1201.92 L1909.39,1201.82 L1909.78,1201.8 L1910.17,1201.85 L1910.56,1201.97 L1910.95,1202.16 L1911.34,1202.42 L1911.73,1202.75 L1912.12,1203.15 L1912.51,1203.61 L1912.9,1204.14 L1913.29,1204.73 L1913.68,1205.4 L1914.07,1206.15 L1914.47,1207.13 L1914.86,1208.27 L1915.25,1209.06 L1915.64,1209.74 L1916.03,1210.35 L1916.42,1210.89 L1916.81,1211.36 L1917.2,1211.77 L1917.59,1212.11 L1917.98,1212.39 L1918.37,1212.6 L1918.76,1212.73 L1919.15,1212.79" fill="none" stroke="#000" stroke-width="2.85" stroke-linecap="butt" stroke-linejoin="round"/>
<circle cx="1853.0" cy="1206.1" r="9.9" fill="#B4B4B4" fill-opacity="0.48" stroke="#757575" stroke-width="1.3"/>
<circle cx="1900.4" cy="1207.8" r="9.9" fill="#B4B4B4" fill-opacity="0.48" stroke="#757575" stroke-width="1.3"/>
<text x="1877.6" y="1260.8" text-anchor="middle" fill="#000" style="font-family:'Liberation Sans', sans-serif;font-size:33.7px;" >MgrR</text>
<circle cx="1952.35" cy="1117.2" r="9.9" fill="#DEDEDE" stroke="#757575" stroke-width="1.3"/>
<circle cx="1974.15" cy="1117.2" r="9.9" fill="#DEDEDE" stroke="#757575" stroke-width="1.3"/>
<circle cx="1951.75" cy="1150.6000000000001" r="9.9" fill="#DEDEDE" stroke="#757575" stroke-width="1.3"/>
<circle cx="1973.55" cy="1150.6000000000001" r="9.9" fill="#DEDEDE" stroke="#757575" stroke-width="1.3"/>
<path d="M1919.56,1128.72 L1919.95,1128.81 L1920.34,1128.98 L1920.73,1129.21 L1921.12,1129.51 L1921.51,1129.88 L1921.9,1130.32 L1922.29,1130.82 L1922.68,1131.38 L1923.07,1132.02 L1923.46,1132.74 L1923.85,1133.59 L1924.24,1134.8 L1924.63,1135.66 L1925.02,1136.37 L1925.41,1137.01 L1925.8,1137.58 L1926.19,1138.08 L1926.58,1138.51 L1926.97,1138.88 L1927.36,1139.19 L1927.75,1139.42 L1928.14,1139.58 L1928.53,1139.68 L1928.92,1139.7 L1929.31,1139.65 L1929.7,1139.53 L1930.09,1139.33 L1930.48,1139.07 L1930.87,1138.74 L1931.26,1138.34 L1931.65,1137.88 L1932.04,1137.35 L1932.43,1136.76 L1932.82,1136.09 L1933.21,1135.33 L1933.6,1134.34 L1933.99,1133.21 L1934.38,1132.43 L1934.77,1131.75 L1935.16,1131.14 L1935.55,1130.6 L1935.94,1130.13 L1936.33,1129.72 L1936.72,1129.38 L1937.11,1129.11 L1937.5,1128.9 L1937.89,1128.77 L1938.28,1128.7 L1938.67,1128.71 L1939.06,1128.8 L1939.45,1128.95 L1939.85,1129.17 L1940.24,1129.46 L1940.63,1129.82 L1941.02,1130.25 L1941.41,1130.74 L1941.8,1131.29 L1942.19,1131.92 L1942.58,1132.62 L1942.97,1133.44 L1943.36,1134.65 L1943.75,1135.54 L1944.14,1136.27 L1944.53,1136.92 L1944.92,1137.5 L1945.31,1138.01 L1945.7,1138.45 L1946.09,1138.83 L1946.48,1139.15 L1946.87,1139.39 L1947.26,1139.56 L1947.65,1139.67 L1948.04,1139.7 L1948.43,1139.66 L1948.82,1139.55 L1949.21,1139.37 L1949.6,1139.11 L1949.99,1138.79 L1950.38,1138.4 L1950.77,1137.95 L1951.16,1137.43 L1951.55,1136.85 L1951.94,1136.19 L1952.33,1135.45 L1952.72,1134.53 L1953.11,1133.34 L1953.5,1132.54 L1953.89,1131.84 L1954.28,1131.23 L1954.67,1130.68 L1955.06,1130.2 L1955.45,1129.78 L1955.84,1129.43 L1956.23,1129.14 L1956.62,1128.93 L1957.01,1128.78 L1957.4,1128.71 L1957.79,1128.71 L1958.18,1128.78 L1958.57,1128.92 L1958.96,1129.13 L1959.35,1129.42 L1959.74,1129.76 L1960.14,1130.18 L1960.53,1130.66 L1960.92,1131.21 L1961.31,1131.82 L1961.7,1132.51 L1962.09,1133.31 L1962.48,1134.49 L1962.87,1135.42 L1963.26,1136.17 L1963.65,1136.83 L1964.04,1137.41 L1964.43,1137.93 L1964.82,1138.39 L1965.21,1138.78 L1965.6,1139.1 L1965.99,1139.36 L1966.38,1139.54 L1966.77,1139.66 L1967.16,1139.7 L1967.55,1139.67 L1967.94,1139.57 L1968.33,1139.4 L1968.72,1139.16 L1969.11,1138.84 L1969.5,1138.47 L1969.89,1138.02 L1970.28,1137.51 L1970.67,1136.94 L1971.06,1136.3 L1971.45,1135.57 L1971.84,1134.69 L1972.23,1133.48 L1972.62,1132.65 L1973.01,1131.94 L1973.4,1131.31 L1973.79,1130.76 L1974.18,1130.26 L1974.57,1129.84 L1974.96,1129.47 L1975.35,1129.18 L1975.74,1128.95 L1976.13,1128.8 L1976.52,1128.72 L1976.91,1128.7 L1977.3,1128.76 L1977.69,1128.9 L1978.08,1129.1 L1978.47,1129.37 L1978.86,1129.71 L1979.25,1130.11 L1979.64,1130.58 L1980.03,1131.12 L1980.43,1131.72 L1980.82,1132.4 L1981.21,1133.18 L1981.6,1134.29 L1981.99,1135.3 L1982.38,1136.06 L1982.77,1136.73 L1983.16,1137.33 L1983.55,1137.86 L1983.94,1138.33 L1984.33,1138.73 L1984.72,1139.06 L1985.11,1139.32 L1985.5,1139.52 L1985.89,1139.64 L1986.28,1139.7 L1986.67,1139.68 L1987.06,1139.59 L1987.45,1139.43 L1987.84,1139.2 L1988.23,1138.9 L1988.62,1138.53 L1989.01,1138.09 L1989.4,1137.6 L1989.79,1137.03 L1990.18,1136.4 L1990.57,1135.68 L1990.96,1134.84 L1991.35,1133.62 L1991.74,1132.76 L1992.13,1132.04 L1992.52,1131.4 L1992.91,1130.84 L1993.3,1130.33 L1993.69,1129.9 L1994.08,1129.52 L1994.47,1129.22 L1994.86,1128.98 L1995.25,1128.82 L1995.64,1128.72 L1996.03,1128.7 L1996.42,1128.75 L1996.81,1128.87 L1997.2,1129.06 L1997.59,1129.32 L1997.98,1129.65 L1998.37,1130.05 L1998.76,1130.51 L1999.15,1131.04 L1999.54,1131.63 L1999.93,1132.3 L2000.32,1133.05 L2000.72,1134.03 L2001.11,1135.17 L2001.5,1135.96 L2001.89,1136.64 L2002.28,1137.25 L2002.67,1137.79 L2003.06,1138.26 L2003.45,1138.67 L2003.84,1139.01 L2004.23,1139.29 L2004.62,1139.5 L2005.01,1139.63 L2005.4,1139.69" fill="none" stroke="#000" stroke-width="2.85" stroke-linecap="butt" stroke-linejoin="round"/>
<circle cx="1939.25" cy="1133.0" r="9.9" fill="#B4B4B4" fill-opacity="0.48" stroke="#757575" stroke-width="1.3"/>
<circle cx="1986.65" cy="1134.7" r="9.9" fill="#B4B4B4" fill-opacity="0.48" stroke="#757575" stroke-width="1.3"/>
<text x="1967.3" y="1187.9" text-anchor="middle" fill="#000" style="font-family:'Liberation Sans', sans-serif;font-size:33.7px;" >DicF</text>
<path d="M1961,1193 L1961,1209.3 L2004,1209.3" fill="none" stroke="#000" stroke-width="1.5" stroke-linecap="butt" stroke-linejoin="miter"/>
<polygon points="2021,1209.5 2003.5,1198.5 2003.5,1220.5" fill="#000"/>
<ellipse cx="2088.1" cy="1206.6" rx="59.6" ry="35.6" fill="#A7A9AC" stroke="#000" stroke-width="1.5"/>
<text x="2088.6" y="1220.3" text-anchor="middle" fill="#000" style="font-family:'Liberation Sans', sans-serif;font-size:33.7px;" >PchA</text>
<path d="M2085.5,1159.8 L2085.5,824" fill="none" stroke="#000" stroke-width="1.5" stroke-linecap="butt" stroke-linejoin="miter"/>
<polygon points="2085.4,807 2074.8,824.8 2096.0,824.8" fill="#000"/>
<polygon points="413.3,608.4 479.3,608.4 494.3,623.4 479.3,640.2 413.3,640.2" fill="#808080" stroke="#1a1a1a" stroke-width="1.45" stroke-linejoin="miter"/>
<polygon points="943.3,608.4 953.8,608.4 968.8,623.4 953.8,640.2 943.3,640.2" fill="#808080" stroke="#1a1a1a" stroke-width="1.45" stroke-linejoin="miter"/>
<polygon points="1387.3,608.4 1392.8,608.4 1407.8,623.4 1392.8,640.2 1387.3,640.2" fill="#808080" stroke="#1a1a1a" stroke-width="1.45" stroke-linejoin="miter"/>
<polygon points="1412.3,608.4 1421.5,608.4 1436.5,623.4 1421.5,640.2 1412.3,640.2" fill="#808080" stroke="#1a1a1a" stroke-width="1.45" stroke-linejoin="miter"/>
<polygon points="1437.3,608.4 1459.5,608.4 1474.5,623.4 1459.5,640.2 1437.3,640.2" fill="#808080" stroke="#1a1a1a" stroke-width="1.45" stroke-linejoin="miter"/>
<polygon points="1477.8,608.4 1491.5,608.4 1506.5,623.4 1491.5,640.2 1477.8,640.2" fill="#808080" stroke="#1a1a1a" stroke-width="1.45" stroke-linejoin="miter"/>
<polygon points="1507.3,608.4 1594,608.4 1609,623.4 1594,640.2 1507.3,640.2" fill="#808080" stroke="#1a1a1a" stroke-width="1.45" stroke-linejoin="miter"/>
<polygon points="1610.3,608.4 1626,608.4 1641,623.4 1626,640.2 1610.3,640.2" fill="#808080" stroke="#1a1a1a" stroke-width="1.45" stroke-linejoin="miter"/>
<polygon points="1735.5,608.4 1751.5,608.4 1766.5,623.4 1751.5,640.2 1735.5,640.2" fill="#808080" stroke="#1a1a1a" stroke-width="1.45" stroke-linejoin="miter"/>
<polygon points="2179.3,608.4 2240.5,608.4 2255.5,623.4 2240.5,640.2 2179.3,640.2" fill="#808080" stroke="#1a1a1a" stroke-width="1.45" stroke-linejoin="miter"/>
<polygon points="81.75,741.6 48,741.6 33,756.6 48,773.4 81.75,773.4" fill="#808080" stroke="#1a1a1a" stroke-width="1.45" stroke-linejoin="miter"/>
<polygon points="106.75,741.6 102.5,741.6 87.5,756.6 102.5,773.4 106.75,773.4" fill="#808080" stroke="#1a1a1a" stroke-width="1.45" stroke-linejoin="miter"/>
<polygon points="119.5,741.6 119.5,741.6 106.75,756.6 119.5,773.4 119.5,773.4" fill="#808080" stroke="#1a1a1a" stroke-width="1.45" stroke-linejoin="miter"/>
<polygon points="151.25,741.6 139.25,741.6 124.25,756.6 139.25,773.4 151.25,773.4" fill="#808080" stroke="#1a1a1a" stroke-width="1.45" stroke-linejoin="miter"/>
<polygon points="213,741.6 166.25,741.6 151.25,756.6 166.25,773.4 213,773.4" fill="#808080" stroke="#1a1a1a" stroke-width="1.45" stroke-linejoin="miter"/>
<polygon points="290.75,741.6 231.25,741.6 216.25,756.6 231.25,773.4 290.75,773.4" fill="#808080" stroke="#1a1a1a" stroke-width="1.45" stroke-linejoin="miter"/>
<polygon points="329.5,741.6 305.75,741.6 290.75,756.6 305.75,773.4 329.5,773.4" fill="#808080" stroke="#1a1a1a" stroke-width="1.45" stroke-linejoin="miter"/>
<polygon points="404.25,741.6 349.25,741.6 334.25,756.6 349.25,773.4 404.25,773.4" fill="#808080" stroke="#1a1a1a" stroke-width="1.45" stroke-linejoin="miter"/>
<polygon points="698.75,741.6 527,741.6 512,756.6 527,773.4 698.75,773.4" fill="#808080" stroke="#1a1a1a" stroke-width="1.45" stroke-linejoin="miter"/>
<polygon points="734,741.6 718.75,741.6 703.75,756.6 718.75,773.4 734,773.4" fill="#808080" stroke="#1a1a1a" stroke-width="1.45" stroke-linejoin="miter"/>
<polygon points="855.75,741.6 758.75,741.6 743.75,756.6 758.75,773.4 855.75,773.4" fill="#808080" stroke="#1a1a1a" stroke-width="1.45" stroke-linejoin="miter"/>
<polygon points="923.75,741.6 898.25,741.6 883.25,756.6 898.25,773.4 923.75,773.4" fill="#808080" stroke="#1a1a1a" stroke-width="1.45" stroke-linejoin="miter"/>
<polygon points="1015.25,741.6 996.25,741.6 981.25,756.6 996.25,773.4 1015.25,773.4" fill="#808080" stroke="#1a1a1a" stroke-width="1.45" stroke-linejoin="miter"/>
<polygon points="1077,741.6 1031.25,741.6 1016.25,756.6 1031.25,773.4 1077,773.4" fill="#808080" stroke="#1a1a1a" stroke-width="1.45" stroke-linejoin="miter"/>
<polygon points="1123.75,741.6 1117.75,741.6 1102.75,756.6 1117.75,773.4 1123.75,773.4" fill="#808080" stroke="#1a1a1a" stroke-width="1.45" stroke-linejoin="miter"/>
<polygon points="1216.5,741.6 1143.25,741.6 1128.25,756.6 1143.25,773.4 1216.5,773.4" fill="#808080" stroke="#1a1a1a" stroke-width="1.45" stroke-linejoin="miter"/>
<polygon points="1351.5,741.6 1231.5,741.6 1216.5,756.6 1231.5,773.4 1351.5,773.4" fill="#808080" stroke="#1a1a1a" stroke-width="1.45" stroke-linejoin="miter"/>
<polygon points="1374.75,741.6 1366.5,741.6 1351.5,756.6 1366.5,773.4 1374.75,773.4" fill="#808080" stroke="#1a1a1a" stroke-width="1.45" stroke-linejoin="miter"/>
<polygon points="1694,741.6 1682.25,741.6 1667.25,756.6 1682.25,773.4 1694,773.4" fill="#808080" stroke="#1a1a1a" stroke-width="1.45" stroke-linejoin="miter"/>
<polygon points="1720.5,741.6 1712,741.6 1697,756.6 1712,773.4 1720.5,773.4" fill="#808080" stroke="#1a1a1a" stroke-width="1.45" stroke-linejoin="miter"/>
<polygon points="1834,741.6 1780.5,741.6 1765.5,756.6 1780.5,773.4 1834,773.4" fill="#808080" stroke="#1a1a1a" stroke-width="1.45" stroke-linejoin="miter"/>
<polygon points="1886,741.6 1849,741.6 1834,756.6 1849,773.4 1886,773.4" fill="#808080" stroke="#1a1a1a" stroke-width="1.45" stroke-linejoin="miter"/>
<polygon points="1903.5,741.6 1901,741.6 1886,756.6 1901,773.4 1903.5,773.4" fill="#808080" stroke="#1a1a1a" stroke-width="1.45" stroke-linejoin="miter"/>
<polygon points="1947.25,741.6 1918.5,741.6 1903.5,756.6 1918.5,773.4 1947.25,773.4" fill="#808080" stroke="#1a1a1a" stroke-width="1.45" stroke-linejoin="miter"/>
<polygon points="1991.75,741.6 1963.5,741.6 1948.5,756.6 1963.5,773.4 1991.75,773.4" fill="#808080" stroke="#1a1a1a" stroke-width="1.45" stroke-linejoin="miter"/>
<polygon points="2030.25,741.6 2006.75,741.6 1991.75,756.6 2006.75,773.4 2030.25,773.4" fill="#808080" stroke="#1a1a1a" stroke-width="1.45" stroke-linejoin="miter"/>
<polygon points="2050.25,741.6 2045.25,741.6 2030.25,756.6 2045.25,773.4 2050.25,773.4" fill="#808080" stroke="#1a1a1a" stroke-width="1.45" stroke-linejoin="miter"/>
<polygon points="2065.25,741.6 2065.25,741.6 2051.75,756.6 2065.25,773.4 2065.25,773.4" fill="#808080" stroke="#1a1a1a" stroke-width="1.45" stroke-linejoin="miter"/>
<polygon points="2092.25,741.6 2083.5,741.6 2068.5,756.6 2083.5,773.4 2092.25,773.4" fill="#808080" stroke="#1a1a1a" stroke-width="1.45" stroke-linejoin="miter"/>
<text x="447.125" y="603.2" text-anchor="middle" fill="#000" style="font-family:'Liberation Sans', sans-serif;font-size:28.2px;font-style:italic;" >escD</text>
<text x="1401.875" y="603.2" text-anchor="middle" fill="#000" style="font-family:'Liberation Sans', sans-serif;font-size:28.2px;font-style:italic;" >espZ</text>
<text x="1492.0" y="603.2" text-anchor="middle" fill="#000" style="font-family:'Liberation Sans', sans-serif;font-size:28.2px;font-style:italic;" >sepD</text>
<text x="1558.0" y="603.2" text-anchor="middle" fill="#000" style="font-family:'Liberation Sans', sans-serif;font-size:28.2px;font-style:italic;" >escC</text>
<text x="1631.375" y="603.2" text-anchor="middle" fill="#000" style="font-family:'Liberation Sans', sans-serif;font-size:28.2px;font-style:italic;" >cesD</text>
<text x="2111.25" y="603.2" text-anchor="middle" fill="#000" style="font-family:'Liberation Sans', sans-serif;font-size:28.2px;font-style:italic;" >arl</text>
<text x="2216.25" y="603.2" text-anchor="middle" fill="#000" style="font-family:'Liberation Sans', sans-serif;font-size:28.2px;font-style:italic;" >espG</text>
<text x="65.625" y="801.0" text-anchor="middle" fill="#000" style="font-family:'Liberation Sans', sans-serif;font-size:28.2px;font-style:italic;" >espF</text>
<text x="182.5" y="801.0" text-anchor="middle" fill="#000" style="font-family:'Liberation Sans', sans-serif;font-size:28.2px;font-style:italic;" >espB</text>
<text x="251.875" y="801.0" text-anchor="middle" fill="#000" style="font-family:'Liberation Sans', sans-serif;font-size:28.2px;font-style:italic;" >espD</text>
<text x="317.75" y="801.0" text-anchor="middle" fill="#000" style="font-family:'Liberation Sans', sans-serif;font-size:28.2px;font-style:italic;" >espA</text>
<text x="385.625" y="801.0" text-anchor="middle" fill="#000" style="font-family:'Liberation Sans', sans-serif;font-size:28.2px;font-style:italic;" >sepL</text>
<text x="601.75" y="801.0" text-anchor="middle" fill="#000" style="font-family:'Liberation Sans', sans-serif;font-size:28.2px;font-style:italic;" >eae</text>
<text x="726.375" y="801.0" text-anchor="middle" fill="#000" style="font-family:'Liberation Sans', sans-serif;font-size:28.2px;font-style:italic;" >cesT</text>
<text x="802.0" y="801.0" text-anchor="middle" fill="#000" style="font-family:'Liberation Sans', sans-serif;font-size:28.2px;font-style:italic;" >tir</text>
<text x="908.25" y="801.0" text-anchor="middle" fill="#000" style="font-family:'Liberation Sans', sans-serif;font-size:28.2px;font-style:italic;" >map</text>
<text x="1053.375" y="801.0" text-anchor="middle" fill="#000" style="font-family:'Liberation Sans', sans-serif;font-size:28.2px;font-style:italic;" >sepQ</text>
<text x="1174.0" y="801.0" text-anchor="middle" fill="#000" style="font-family:'Liberation Sans', sans-serif;font-size:28.2px;font-style:italic;" >escN</text>
<text x="1287.75" y="801.0" text-anchor="middle" fill="#000" style="font-family:'Liberation Sans', sans-serif;font-size:28.2px;font-style:italic;" >escV</text>
<text x="1661.5" y="801.0" text-anchor="middle" fill="#000" style="font-family:'Liberation Sans', sans-serif;font-size:28.2px;font-style:italic;" >grlA</text>
<text x="1718.75" y="801.0" text-anchor="middle" fill="#000" style="font-family:'Liberation Sans', sans-serif;font-size:28.2px;font-style:italic;" >grlR</text>
<text x="1798.125" y="801.0" text-anchor="middle" fill="#000" style="font-family:'Liberation Sans', sans-serif;font-size:28.2px;font-style:italic;" >escU</text>
<text x="1862.875" y="801.0" text-anchor="middle" fill="#000" style="font-family:'Liberation Sans', sans-serif;font-size:28.2px;font-style:italic;" >escT</text>
<text x="1929.75" y="801.0" text-anchor="middle" fill="#000" style="font-family:'Liberation Sans', sans-serif;font-size:28.2px;font-style:italic;" >escR</text>
<text x="2081.875" y="801.0" text-anchor="middle" fill="#000" style="font-family:'Liberation Sans', sans-serif;font-size:28.2px;font-style:italic;" >ler</text>
<text x="2139.75" y="71.9" text-anchor="middle" fill="#000" style="font-family:'Liberation Sans', sans-serif;font-size:27.8px;font-style:italic;" >arl</text>
<rect x="1386.5" y="571.25" width="226.25" height="3" fill="#000"/>
<polygon points="1633.35,572.75 1608.75,558.65 1608.75,586.85" fill="#000"/>
<text x="1510" y="564" text-anchor="middle" fill="#000" style="font-family:'Liberation Sans', sans-serif;font-size:27.9px;font-weight:bold;" >LEE2</text>
<rect x="56.25" y="718.0" width="345.5" height="3" fill="#000"/>
<polygon points="35.65,719.5 60.25,705.4 60.25,733.6" fill="#000"/>
<text x="225" y="711.5" text-anchor="middle" fill="#000" style="font-family:'Liberation Sans', sans-serif;font-size:27.9px;font-weight:bold;" >LEE4</text>
<rect x="531.25" y="718.0" width="323.75" height="3" fill="#000"/>
<polygon points="510.65,719.5 535.25,705.4 535.25,733.6" fill="#000"/>
<text x="723.25" y="711.5" text-anchor="middle" fill="#000" style="font-family:'Liberation Sans', sans-serif;font-size:27.9px;font-weight:bold;" >LEE5</text>
<rect x="1000.75" y="718.0" width="373.25" height="3" fill="#000"/>
<polygon points="980.15,719.5 1004.75,705.4 1004.75,733.6" fill="#000"/>
<text x="1197.75" y="711.5" text-anchor="middle" fill="#000" style="font-family:'Liberation Sans', sans-serif;font-size:27.9px;font-weight:bold;" >LEE3</text>
<rect x="1784.75" y="718.0" width="307.5" height="3" fill="#000"/>
<polygon points="1764.15,719.5 1788.75,705.4 1788.75,733.6" fill="#000"/>
<text x="1948.75" y="711.5" text-anchor="middle" fill="#000" style="font-family:'Liberation Sans', sans-serif;font-size:27.9px;font-weight:bold;" >LEE1</text>
</svg>
</body>
</html>
